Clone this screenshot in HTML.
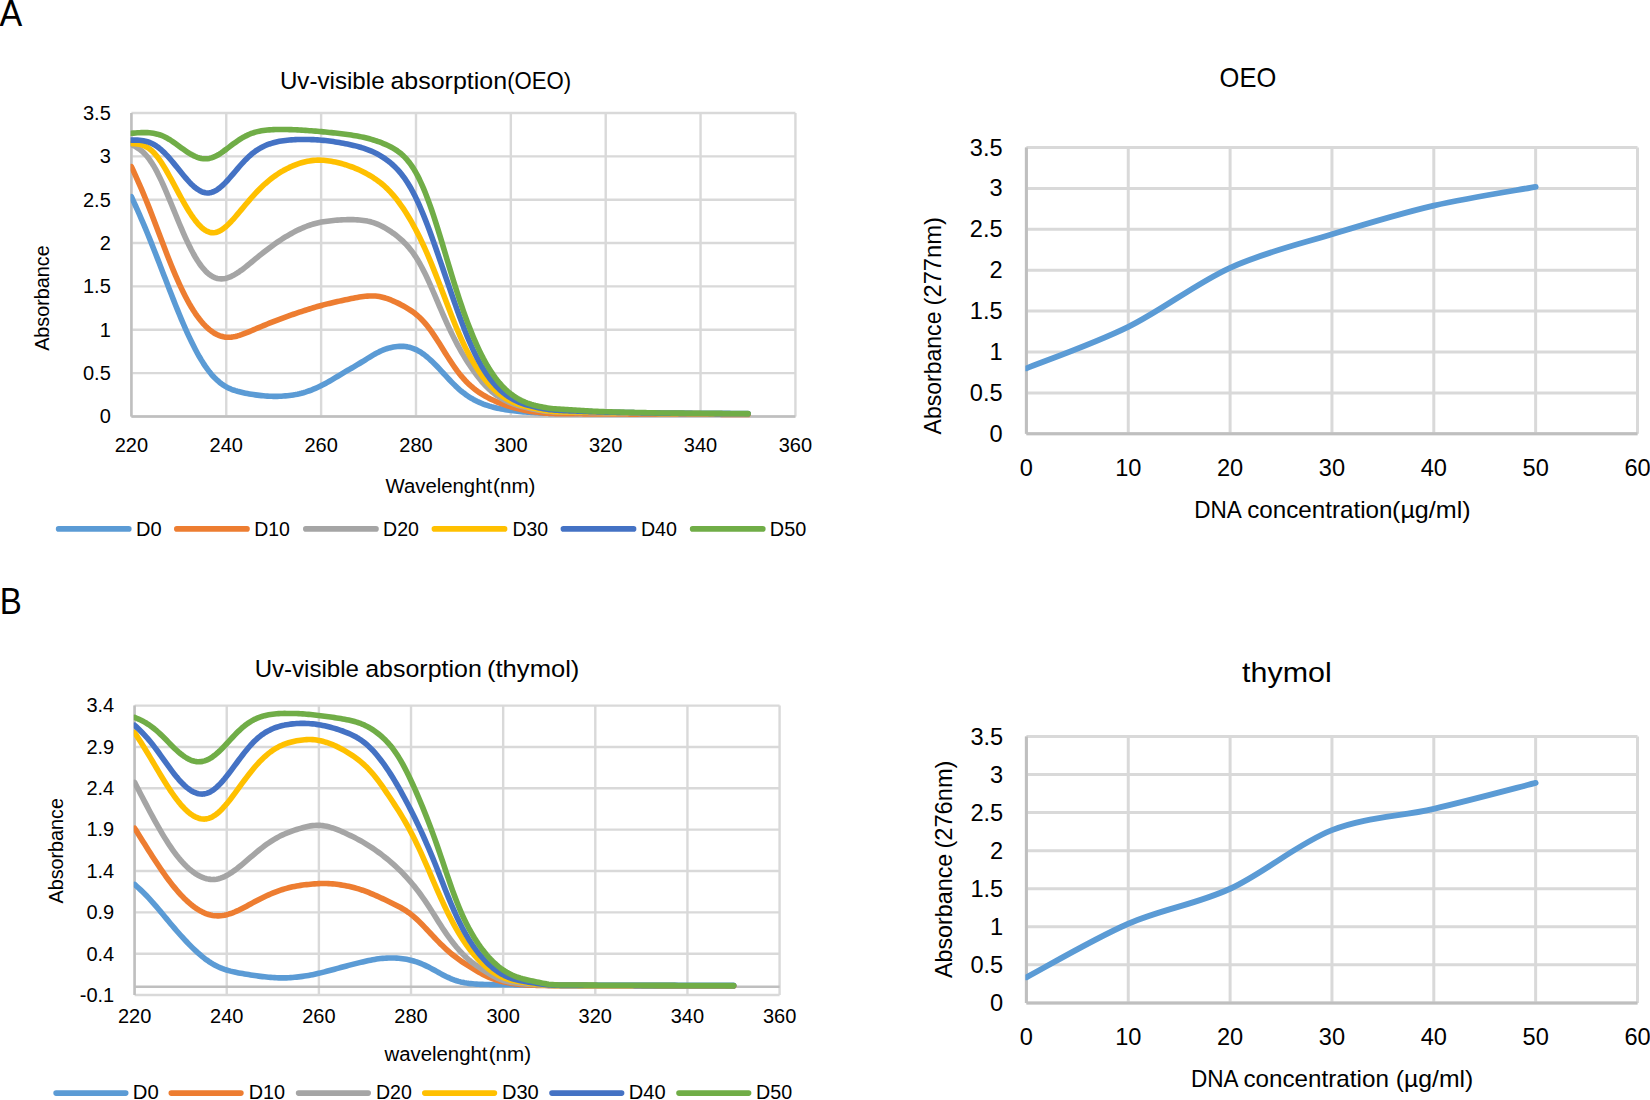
<!DOCTYPE html>
<html lang="en">
<head>
<meta charset="utf-8">
<title>UV-visible absorption of DNA with OEO and thymol</title>
<style>
html,body{margin:0;padding:0;background:#fff;}
body{width:1650px;height:1100px;overflow:hidden;}
svg{display:block;font-family:"Liberation Sans",sans-serif;fill:#000;}
svg path{fill:none;}
</style>
</head>
<body>
<svg width="1650" height="1100" viewBox="0 0 1650 1100">
<rect width="1650" height="1100" fill="#fff"/>
<g id="chart-a">
<path d="M131.4 113H795.42M131.4 156.35H795.42M131.4 199.7H795.42M131.4 243.05H795.42M131.4 286.4H795.42M131.4 329.75H795.42M131.4 373.1H795.42M131.4 416.45H795.42M131.4 113V416.45M226.26 113V416.45M321.12 113V416.45M415.98 113V416.45M510.84 113V416.45M605.7 113V416.45M700.56 113V416.45M795.42 113V416.45" stroke="#D9D9D9" stroke-width="2.4" fill="none"/>
<path d="M131.4 113V416.45M131.4 416.45H795.42" stroke="#BFBFBF" stroke-width="2.4" fill="none"/>
<clipPath id="clipA"><rect x="130.6" y="103" width="674.02" height="323.45"/></clipPath>
<g clip-path="url(#clipA)">
<path d="M131.4 196.72 L133.4 201.1 L135.4 205.5 L137.4 209.94 L139.4 214.44 L141.4 219.02 L143.4 223.69 L145.4 228.43 L147.4 233.26 L149.4 238.15 L151.4 243.12 L153.4 248.16 L155.4 253.24 L157.4 258.37 L159.4 263.53 L161.4 268.71 L163.4 273.91 L165.4 279.1 L167.4 284.28 L169.4 289.44 L171.4 294.57 L173.4 299.65 L175.4 304.68 L177.4 309.64 L179.4 314.52 L181.4 319.32 L183.4 324.01 L185.4 328.59 L187.4 333.06 L189.4 337.39 L191.4 341.57 L193.4 345.61 L195.4 349.5 L197.4 353.21 L199.4 356.77 L201.4 360.14 L203.4 363.34 L205.4 366.35 L207.4 369.18 L209.4 371.82 L211.4 374.27 L213.4 376.52 L215.4 378.59 L217.4 380.49 L219.4 382.2 L221.4 383.74 L223.4 385.12 L225.4 386.36 L227.4 387.45 L229.4 388.42 L231.4 389.27 L233.4 390.02 L235.4 390.68 L237.4 391.27 L239.4 391.8 L241.4 392.29 L243.4 392.74 L245.4 393.16 L247.4 393.55 L249.4 393.91 L251.4 394.25 L253.4 394.57 L255.4 394.86 L257.4 395.14 L259.4 395.39 L261.4 395.62 L263.4 395.82 L265.4 395.98 L267.4 396.12 L269.4 396.22 L271.4 396.29 L273.4 396.34 L275.4 396.35 L277.4 396.33 L279.4 396.28 L281.4 396.18 L283.4 396.05 L285.4 395.89 L287.4 395.69 L289.4 395.47 L291.4 395.22 L293.4 394.93 L295.4 394.6 L297.4 394.22 L299.4 393.79 L301.4 393.3 L303.4 392.75 L305.4 392.14 L307.4 391.47 L309.4 390.76 L311.4 390.01 L313.4 389.21 L315.4 388.37 L317.4 387.48 L319.4 386.55 L321.4 385.57 L323.4 384.55 L325.4 383.48 L327.4 382.38 L329.4 381.25 L331.4 380.09 L333.4 378.91 L335.4 377.71 L337.4 376.51 L339.4 375.3 L341.4 374.09 L343.4 372.88 L345.4 371.7 L347.4 370.53 L349.4 369.37 L351.4 368.21 L353.4 367.05 L355.4 365.88 L357.4 364.7 L359.4 363.49 L361.4 362.26 L363.4 361.02 L365.4 359.76 L367.4 358.5 L369.4 357.26 L371.4 356.04 L373.4 354.85 L375.4 353.72 L377.4 352.65 L379.4 351.65 L381.4 350.73 L383.4 349.9 L385.4 349.15 L387.4 348.49 L389.4 347.91 L391.4 347.42 L393.4 347.02 L395.4 346.71 L397.4 346.49 L399.4 346.36 L401.4 346.32 L403.4 346.39 L405.4 346.57 L407.4 346.87 L409.4 347.3 L411.4 347.86 L413.4 348.55 L415.4 349.38 L417.4 350.36 L419.4 351.47 L421.4 352.72 L423.4 354.1 L425.4 355.61 L427.4 357.25 L429.4 358.99 L431.4 360.82 L433.4 362.74 L435.4 364.74 L437.4 366.81 L439.4 368.93 L441.4 371.08 L443.4 373.25 L445.4 375.43 L447.4 377.6 L449.4 379.74 L451.4 381.84 L453.4 383.88 L455.4 385.86 L457.4 387.75 L459.4 389.56 L461.4 391.26 L463.4 392.85 L465.4 394.34 L467.4 395.74 L469.4 397.05 L471.4 398.27 L473.4 399.41 L475.4 400.47 L477.4 401.46 L479.4 402.38 L481.4 403.23 L483.4 404.03 L485.4 404.76 L487.4 405.45 L489.4 406.08 L491.4 406.66 L493.4 407.19 L495.4 407.69 L497.4 408.15 L499.4 408.58 L501.4 408.97 L503.4 409.34 L505.4 409.68 L507.4 410 L509.4 410.3 L511.4 410.57 L513.4 410.82 L515.4 411.06 L517.4 411.28 L519.4 411.48 L521.4 411.67 L523.4 411.85 L525.4 412.01 L527.4 412.16 L529.4 412.31 L531.4 412.44 L533.4 412.57 L535.4 412.69 L537.4 412.81 L539.4 412.93 L541.4 413.03 L543.4 413.13 L545.4 413.22 L547.4 413.3 L549.4 413.36 L551.4 413.41 L553.4 413.44 L555.4 413.46 L557.4 413.47 L559.4 413.47 L561.4 413.47 L563.4 413.45 L565.4 413.44 L567.4 413.42 L569.4 413.41 L571.4 413.39 L573.4 413.37 L575.4 413.36 L577.4 413.34 L579.4 413.32 L581.4 413.31 L583.4 413.3 L585.4 413.28 L587.4 413.27 L589.4 413.26 L591.4 413.25 L593.4 413.24 L595.4 413.23 L597.4 413.22 L599.4 413.22 L601.4 413.21 L603.4 413.21 L605.4 413.22 L607.4 413.22 L609.4 413.22 L611.4 413.23 L613.4 413.23 L615.4 413.24 L617.4 413.24 L619.4 413.25 L621.4 413.26 L623.4 413.26 L625.4 413.27 L627.4 413.27 L629.4 413.28 L631.4 413.28 L633.4 413.29 L635.4 413.3 L637.4 413.3 L639.4 413.31 L641.4 413.31 L643.4 413.32 L645.4 413.32 L647.4 413.33 L649.4 413.33 L651.4 413.34 L653.4 413.34 L655.4 413.35 L657.4 413.36 L659.4 413.36 L661.4 413.37 L663.4 413.37 L665.4 413.38 L667.4 413.38 L669.4 413.39 L671.4 413.39 L673.4 413.4 L675.4 413.4 L677.4 413.41 L679.4 413.41 L681.4 413.42 L683.4 413.43 L685.4 413.43 L687.4 413.44 L689.4 413.44 L691.4 413.45 L693.4 413.45 L695.4 413.46 L697.4 413.46 L699.4 413.47 L701.4 413.47 L703.4 413.48 L705.4 413.48 L707.4 413.49 L709.4 413.5 L711.4 413.5 L713.4 413.51 L715.4 413.51 L717.4 413.52 L719.4 413.52 L721.4 413.53 L723.4 413.53 L725.4 413.54 L727.4 413.54 L729.4 413.55 L731.4 413.56 L733.4 413.56 L735.4 413.57 L737.4 413.57 L739.4 413.58 L741.4 413.58 L743.4 413.59 L745.4 413.59 L747.4 413.6 L748 413.6" stroke="#5B9BD5" stroke-width="5.6" fill="none" stroke-linecap="round" stroke-linejoin="round"/>
<path d="M131.4 166.54 L133.4 170.93 L135.4 175.35 L137.4 179.81 L139.4 184.33 L141.4 188.94 L143.4 193.65 L145.4 198.46 L147.4 203.36 L149.4 208.36 L151.4 213.46 L153.4 218.64 L155.4 223.88 L157.4 229.16 L159.4 234.46 L161.4 239.76 L163.4 245.04 L165.4 250.28 L167.4 255.46 L169.4 260.54 L171.4 265.53 L173.4 270.39 L175.4 275.12 L177.4 279.71 L179.4 284.15 L181.4 288.43 L183.4 292.54 L185.4 296.48 L187.4 300.25 L189.4 303.84 L191.4 307.25 L193.4 310.47 L195.4 313.52 L197.4 316.37 L199.4 319.04 L201.4 321.52 L203.4 323.82 L205.4 325.93 L207.4 327.86 L209.4 329.6 L211.4 331.17 L213.4 332.55 L215.4 333.76 L217.4 334.79 L219.4 335.64 L221.4 336.31 L223.4 336.81 L225.4 337.13 L227.4 337.29 L229.4 337.29 L231.4 337.13 L233.4 336.85 L235.4 336.44 L237.4 335.93 L239.4 335.34 L241.4 334.67 L243.4 333.95 L245.4 333.18 L247.4 332.38 L249.4 331.55 L251.4 330.72 L253.4 329.87 L255.4 329.03 L257.4 328.18 L259.4 327.34 L261.4 326.5 L263.4 325.67 L265.4 324.85 L267.4 324.03 L269.4 323.22 L271.4 322.42 L273.4 321.62 L275.4 320.84 L277.4 320.06 L279.4 319.3 L281.4 318.55 L283.4 317.81 L285.4 317.09 L287.4 316.37 L289.4 315.66 L291.4 314.95 L293.4 314.26 L295.4 313.57 L297.4 312.89 L299.4 312.21 L301.4 311.55 L303.4 310.89 L305.4 310.24 L307.4 309.6 L309.4 308.97 L311.4 308.35 L313.4 307.74 L315.4 307.14 L317.4 306.56 L319.4 305.99 L321.4 305.44 L323.4 304.91 L325.4 304.39 L327.4 303.89 L329.4 303.41 L331.4 302.93 L333.4 302.46 L335.4 302.01 L337.4 301.55 L339.4 301.11 L341.4 300.67 L343.4 300.23 L345.4 299.81 L347.4 299.39 L349.4 298.97 L351.4 298.56 L353.4 298.17 L355.4 297.79 L357.4 297.43 L359.4 297.09 L361.4 296.79 L363.4 296.52 L365.4 296.3 L367.4 296.12 L369.4 296 L371.4 295.94 L373.4 295.96 L375.4 296.06 L377.4 296.27 L379.4 296.59 L381.4 296.99 L383.4 297.49 L385.4 298.06 L387.4 298.71 L389.4 299.43 L391.4 300.21 L393.4 301.05 L395.4 301.94 L397.4 302.88 L399.4 303.87 L401.4 304.91 L403.4 305.99 L405.4 307.12 L407.4 308.32 L409.4 309.57 L411.4 310.9 L413.4 312.31 L415.4 313.84 L417.4 315.48 L419.4 317.27 L421.4 319.22 L423.4 321.33 L425.4 323.61 L427.4 326.07 L429.4 328.68 L431.4 331.44 L433.4 334.34 L435.4 337.34 L437.4 340.43 L439.4 343.59 L441.4 346.78 L443.4 350 L445.4 353.2 L447.4 356.37 L449.4 359.5 L451.4 362.54 L453.4 365.5 L455.4 368.35 L457.4 371.09 L459.4 373.69 L461.4 376.16 L463.4 378.5 L465.4 380.69 L467.4 382.75 L469.4 384.68 L471.4 386.48 L473.4 388.16 L475.4 389.74 L477.4 391.21 L479.4 392.58 L481.4 393.88 L483.4 395.1 L485.4 396.26 L487.4 397.36 L489.4 398.4 L491.4 399.39 L493.4 400.34 L495.4 401.24 L497.4 402.1 L499.4 402.91 L501.4 403.69 L503.4 404.43 L505.4 405.13 L507.4 405.79 L509.4 406.42 L511.4 407.02 L513.4 407.59 L515.4 408.13 L517.4 408.63 L519.4 409.12 L521.4 409.57 L523.4 410 L525.4 410.4 L527.4 410.78 L529.4 411.14 L531.4 411.47 L533.4 411.78 L535.4 412.06 L537.4 412.32 L539.4 412.55 L541.4 412.76 L543.4 412.95 L545.4 413.12 L547.4 413.25 L549.4 413.37 L551.4 413.46 L553.4 413.53 L555.4 413.58 L557.4 413.62 L559.4 413.65 L561.4 413.67 L563.4 413.69 L565.4 413.7 L567.4 413.71 L569.4 413.72 L571.4 413.74 L573.4 413.75 L575.4 413.77 L577.4 413.78 L579.4 413.8 L581.4 413.82 L583.4 413.84 L585.4 413.86 L587.4 413.88 L589.4 413.9 L591.4 413.91 L593.4 413.93 L595.4 413.95 L597.4 413.97 L599.4 413.98 L601.4 413.99 L603.4 414 L605.4 414.01 L607.4 414.02 L609.4 414.03 L611.4 414.03 L613.4 414.04 L615.4 414.05 L617.4 414.05 L619.4 414.06 L621.4 414.06 L623.4 414.06 L625.4 414.07 L627.4 414.07 L629.4 414.08 L631.4 414.09 L633.4 414.09 L635.4 414.1 L637.4 414.1 L639.4 414.11 L641.4 414.11 L643.4 414.12 L645.4 414.12 L647.4 414.13 L649.4 414.13 L651.4 414.14 L653.4 414.14 L655.4 414.15 L657.4 414.16 L659.4 414.16 L661.4 414.17 L663.4 414.17 L665.4 414.18 L667.4 414.18 L669.4 414.19 L671.4 414.19 L673.4 414.2 L675.4 414.2 L677.4 414.21 L679.4 414.21 L681.4 414.22 L683.4 414.23 L685.4 414.23 L687.4 414.24 L689.4 414.24 L691.4 414.25 L693.4 414.25 L695.4 414.26 L697.4 414.26 L699.4 414.27 L701.4 414.27 L703.4 414.28 L705.4 414.28 L707.4 414.29 L709.4 414.3 L711.4 414.3 L713.4 414.31 L715.4 414.31 L717.4 414.32 L719.4 414.32 L721.4 414.33 L723.4 414.33 L725.4 414.34 L727.4 414.34 L729.4 414.35 L731.4 414.36 L733.4 414.36 L735.4 414.37 L737.4 414.37 L739.4 414.38 L741.4 414.38 L743.4 414.39 L745.4 414.39 L747.4 414.4 L748 414.4" stroke="#ED7D31" stroke-width="5.6" fill="none" stroke-linecap="round" stroke-linejoin="round"/>
<path d="M131.4 144.44 L133.4 145.51 L135.4 146.61 L137.4 147.81 L139.4 149.15 L141.4 150.68 L143.4 152.44 L145.4 154.47 L147.4 156.79 L149.4 159.4 L151.4 162.29 L153.4 165.47 L155.4 168.93 L157.4 172.66 L159.4 176.66 L161.4 180.87 L163.4 185.28 L165.4 189.85 L167.4 194.55 L169.4 199.35 L171.4 204.22 L173.4 209.12 L175.4 214.03 L177.4 218.91 L179.4 223.73 L181.4 228.46 L183.4 233.08 L185.4 237.57 L187.4 241.9 L189.4 246.05 L191.4 250 L193.4 253.74 L195.4 257.24 L197.4 260.5 L199.4 263.51 L201.4 266.26 L203.4 268.74 L205.4 270.95 L207.4 272.88 L209.4 274.54 L211.4 275.92 L213.4 277.03 L215.4 277.87 L217.4 278.46 L219.4 278.79 L221.4 278.89 L223.4 278.77 L225.4 278.43 L227.4 277.9 L229.4 277.2 L231.4 276.33 L233.4 275.32 L235.4 274.18 L237.4 272.93 L239.4 271.57 L241.4 270.14 L243.4 268.64 L245.4 267.09 L247.4 265.49 L249.4 263.87 L251.4 262.23 L253.4 260.59 L255.4 258.95 L257.4 257.31 L259.4 255.69 L261.4 254.08 L263.4 252.5 L265.4 250.94 L267.4 249.41 L269.4 247.9 L271.4 246.42 L273.4 244.97 L275.4 243.55 L277.4 242.17 L279.4 240.82 L281.4 239.51 L283.4 238.23 L285.4 236.99 L287.4 235.78 L289.4 234.61 L291.4 233.48 L293.4 232.39 L295.4 231.35 L297.4 230.35 L299.4 229.39 L301.4 228.47 L303.4 227.6 L305.4 226.77 L307.4 225.99 L309.4 225.27 L311.4 224.61 L313.4 224 L315.4 223.44 L317.4 222.94 L319.4 222.49 L321.4 222.09 L323.4 221.74 L325.4 221.44 L327.4 221.16 L329.4 220.92 L331.4 220.7 L333.4 220.49 L335.4 220.31 L337.4 220.14 L339.4 219.99 L341.4 219.87 L343.4 219.76 L345.4 219.68 L347.4 219.63 L349.4 219.61 L351.4 219.62 L353.4 219.66 L355.4 219.74 L357.4 219.86 L359.4 220.01 L361.4 220.2 L363.4 220.44 L365.4 220.74 L367.4 221.11 L369.4 221.55 L371.4 222.07 L373.4 222.67 L375.4 223.36 L377.4 224.13 L379.4 225 L381.4 225.95 L383.4 226.99 L385.4 228.12 L387.4 229.31 L389.4 230.59 L391.4 231.93 L393.4 233.34 L395.4 234.83 L397.4 236.39 L399.4 238.04 L401.4 239.8 L403.4 241.67 L405.4 243.67 L407.4 245.82 L409.4 248.14 L411.4 250.66 L413.4 253.37 L415.4 256.31 L417.4 259.48 L419.4 262.88 L421.4 266.5 L423.4 270.33 L425.4 274.36 L427.4 278.56 L429.4 282.92 L431.4 287.41 L433.4 292 L435.4 296.67 L437.4 301.37 L439.4 306.08 L441.4 310.76 L443.4 315.38 L445.4 319.92 L447.4 324.35 L449.4 328.66 L451.4 332.84 L453.4 336.88 L455.4 340.79 L457.4 344.57 L459.4 348.23 L461.4 351.77 L463.4 355.19 L465.4 358.5 L467.4 361.71 L469.4 364.81 L471.4 367.79 L473.4 370.67 L475.4 373.44 L477.4 376.1 L479.4 378.63 L481.4 381.05 L483.4 383.35 L485.4 385.51 L487.4 387.56 L489.4 389.47 L491.4 391.25 L493.4 392.9 L495.4 394.43 L497.4 395.85 L499.4 397.16 L501.4 398.38 L503.4 399.5 L505.4 400.53 L507.4 401.48 L509.4 402.35 L511.4 403.16 L513.4 403.9 L515.4 404.59 L517.4 405.22 L519.4 405.81 L521.4 406.36 L523.4 406.88 L525.4 407.38 L527.4 407.86 L529.4 408.32 L531.4 408.76 L533.4 409.18 L535.4 409.58 L537.4 409.95 L539.4 410.29 L541.4 410.61 L543.4 410.9 L545.4 411.15 L547.4 411.38 L549.4 411.56 L551.4 411.72 L553.4 411.84 L555.4 411.93 L557.4 412.01 L559.4 412.06 L561.4 412.11 L563.4 412.14 L565.4 412.18 L567.4 412.21 L569.4 412.24 L571.4 412.26 L573.4 412.3 L575.4 412.33 L577.4 412.36 L579.4 412.4 L581.4 412.43 L583.4 412.47 L585.4 412.51 L587.4 412.55 L589.4 412.59 L591.4 412.63 L593.4 412.67 L595.4 412.7 L597.4 412.74 L599.4 412.78 L601.4 412.81 L603.4 412.84 L605.4 412.87 L607.4 412.9 L609.4 412.93 L611.4 412.96 L613.4 412.98 L615.4 413.01 L617.4 413.03 L619.4 413.06 L621.4 413.09 L623.4 413.11 L625.4 413.14 L627.4 413.17 L629.4 413.19 L631.4 413.22 L633.4 413.25 L635.4 413.27 L637.4 413.3 L639.4 413.33 L641.4 413.36 L643.4 413.38 L645.4 413.41 L647.4 413.44 L649.4 413.46 L651.4 413.49 L653.4 413.51 L655.4 413.54 L657.4 413.56 L659.4 413.58 L661.4 413.6 L663.4 413.61 L665.4 413.62 L667.4 413.64 L669.4 413.65 L671.4 413.66 L673.4 413.67 L675.4 413.67 L677.4 413.68 L679.4 413.69 L681.4 413.7 L683.4 413.71 L685.4 413.72 L687.4 413.73 L689.4 413.73 L691.4 413.74 L693.4 413.75 L695.4 413.76 L697.4 413.77 L699.4 413.78 L701.4 413.79 L703.4 413.8 L705.4 413.81 L707.4 413.82 L709.4 413.82 L711.4 413.83 L713.4 413.84 L715.4 413.85 L717.4 413.86 L719.4 413.87 L721.4 413.88 L723.4 413.89 L725.4 413.9 L727.4 413.91 L729.4 413.92 L731.4 413.92 L733.4 413.93 L735.4 413.94 L737.4 413.95 L739.4 413.96 L741.4 413.97 L743.4 413.98 L745.4 413.99 L747.4 414 L748 414" stroke="#A5A5A5" stroke-width="5.6" fill="none" stroke-linecap="round" stroke-linejoin="round"/>
<path d="M131.4 143.5 L133.4 143.61 L135.4 143.76 L137.4 143.99 L139.4 144.32 L141.4 144.79 L143.4 145.45 L145.4 146.32 L147.4 147.43 L149.4 148.78 L151.4 150.39 L153.4 152.27 L155.4 154.43 L157.4 156.87 L159.4 159.58 L161.4 162.53 L163.4 165.69 L165.4 169.01 L167.4 172.48 L169.4 176.05 L171.4 179.71 L173.4 183.41 L175.4 187.15 L177.4 190.88 L179.4 194.59 L181.4 198.26 L183.4 201.84 L185.4 205.34 L187.4 208.72 L189.4 211.96 L191.4 215.04 L193.4 217.93 L195.4 220.63 L197.4 223.11 L199.4 225.34 L201.4 227.31 L203.4 229 L205.4 230.39 L207.4 231.46 L209.4 232.21 L211.4 232.64 L213.4 232.74 L215.4 232.5 L217.4 231.95 L219.4 231.11 L221.4 230 L223.4 228.64 L225.4 227.05 L227.4 225.26 L229.4 223.31 L231.4 221.23 L233.4 219.04 L235.4 216.76 L237.4 214.43 L239.4 212.04 L241.4 209.64 L243.4 207.22 L245.4 204.81 L247.4 202.43 L249.4 200.08 L251.4 197.78 L253.4 195.53 L255.4 193.34 L257.4 191.21 L259.4 189.17 L261.4 187.2 L263.4 185.32 L265.4 183.52 L267.4 181.8 L269.4 180.15 L271.4 178.57 L273.4 177.06 L275.4 175.62 L277.4 174.25 L279.4 172.96 L281.4 171.73 L283.4 170.56 L285.4 169.46 L287.4 168.4 L289.4 167.41 L291.4 166.49 L293.4 165.62 L295.4 164.83 L297.4 164.09 L299.4 163.41 L301.4 162.79 L303.4 162.22 L305.4 161.71 L307.4 161.27 L309.4 160.91 L311.4 160.61 L313.4 160.38 L315.4 160.23 L317.4 160.15 L319.4 160.14 L321.4 160.2 L323.4 160.32 L325.4 160.51 L327.4 160.75 L329.4 161.03 L331.4 161.35 L333.4 161.71 L335.4 162.1 L337.4 162.53 L339.4 163.01 L341.4 163.53 L343.4 164.1 L345.4 164.7 L347.4 165.35 L349.4 166.03 L351.4 166.74 L353.4 167.49 L355.4 168.28 L357.4 169.12 L359.4 170.01 L361.4 170.95 L363.4 171.95 L365.4 173.01 L367.4 174.11 L369.4 175.27 L371.4 176.47 L373.4 177.72 L375.4 179.04 L377.4 180.44 L379.4 181.92 L381.4 183.49 L383.4 185.16 L385.4 186.96 L387.4 188.88 L389.4 190.93 L391.4 193.1 L393.4 195.39 L395.4 197.81 L397.4 200.35 L399.4 203.01 L401.4 205.8 L403.4 208.71 L405.4 211.75 L407.4 214.93 L409.4 218.25 L411.4 221.7 L413.4 225.29 L415.4 229.01 L417.4 232.86 L419.4 236.86 L421.4 240.98 L423.4 245.25 L425.4 249.66 L427.4 254.21 L429.4 258.88 L431.4 263.68 L433.4 268.59 L435.4 273.6 L437.4 278.69 L439.4 283.85 L441.4 289.07 L443.4 294.32 L445.4 299.59 L447.4 304.85 L449.4 310.07 L451.4 315.22 L453.4 320.28 L455.4 325.22 L457.4 330.02 L459.4 334.66 L461.4 339.14 L463.4 343.46 L465.4 347.6 L467.4 351.57 L469.4 355.37 L471.4 359 L473.4 362.47 L475.4 365.78 L477.4 368.93 L479.4 371.93 L481.4 374.77 L483.4 377.46 L485.4 380.01 L487.4 382.41 L489.4 384.68 L491.4 386.82 L493.4 388.82 L495.4 390.69 L497.4 392.43 L499.4 394.05 L501.4 395.55 L503.4 396.95 L505.4 398.23 L507.4 399.41 L509.4 400.5 L511.4 401.49 L513.4 402.4 L515.4 403.23 L517.4 403.98 L519.4 404.67 L521.4 405.29 L523.4 405.86 L525.4 406.38 L527.4 406.87 L529.4 407.33 L531.4 407.78 L533.4 408.21 L535.4 408.63 L537.4 409.04 L539.4 409.43 L541.4 409.81 L543.4 410.17 L545.4 410.51 L547.4 410.81 L549.4 411.07 L551.4 411.28 L553.4 411.45 L555.4 411.58 L557.4 411.67 L559.4 411.75 L561.4 411.8 L563.4 411.84 L565.4 411.87 L567.4 411.9 L569.4 411.92 L571.4 411.94 L573.4 411.96 L575.4 411.99 L577.4 412.01 L579.4 412.04 L581.4 412.07 L583.4 412.1 L585.4 412.14 L587.4 412.17 L589.4 412.21 L591.4 412.24 L593.4 412.28 L595.4 412.31 L597.4 412.35 L599.4 412.38 L601.4 412.42 L603.4 412.45 L605.4 412.49 L607.4 412.52 L609.4 412.56 L611.4 412.59 L613.4 412.62 L615.4 412.66 L617.4 412.69 L619.4 412.72 L621.4 412.76 L623.4 412.79 L625.4 412.82 L627.4 412.86 L629.4 412.89 L631.4 412.92 L633.4 412.96 L635.4 412.99 L637.4 413.03 L639.4 413.06 L641.4 413.09 L643.4 413.13 L645.4 413.16 L647.4 413.2 L649.4 413.23 L651.4 413.26 L653.4 413.29 L655.4 413.32 L657.4 413.35 L659.4 413.37 L661.4 413.4 L663.4 413.42 L665.4 413.44 L667.4 413.45 L669.4 413.47 L671.4 413.48 L673.4 413.5 L675.4 413.51 L677.4 413.52 L679.4 413.54 L681.4 413.55 L683.4 413.56 L685.4 413.57 L687.4 413.59 L689.4 413.6 L691.4 413.61 L693.4 413.63 L695.4 413.64 L697.4 413.65 L699.4 413.67 L701.4 413.68 L703.4 413.7 L705.4 413.71 L707.4 413.72 L709.4 413.74 L711.4 413.75 L713.4 413.76 L715.4 413.78 L717.4 413.79 L719.4 413.8 L721.4 413.82 L723.4 413.83 L725.4 413.85 L727.4 413.86 L729.4 413.87 L731.4 413.89 L733.4 413.9 L735.4 413.91 L737.4 413.93 L739.4 413.94 L741.4 413.96 L743.4 413.97 L745.4 413.98 L747.4 414 L748 414" stroke="#FFC000" stroke-width="5.6" fill="none" stroke-linecap="round" stroke-linejoin="round"/>
<path d="M131.4 140.1 L133.4 140.09 L135.4 140.1 L137.4 140.15 L139.4 140.27 L141.4 140.46 L143.4 140.75 L145.4 141.16 L147.4 141.71 L149.4 142.4 L151.4 143.24 L153.4 144.24 L155.4 145.41 L157.4 146.76 L159.4 148.29 L161.4 149.98 L163.4 151.83 L165.4 153.81 L167.4 155.93 L169.4 158.16 L171.4 160.49 L173.4 162.9 L175.4 165.36 L177.4 167.86 L179.4 170.36 L181.4 172.84 L183.4 175.28 L185.4 177.66 L187.4 179.95 L189.4 182.13 L191.4 184.17 L193.4 186.05 L195.4 187.74 L197.4 189.23 L199.4 190.5 L201.4 191.52 L203.4 192.28 L205.4 192.77 L207.4 192.96 L209.4 192.86 L211.4 192.45 L213.4 191.77 L215.4 190.81 L217.4 189.59 L219.4 188.13 L221.4 186.47 L223.4 184.62 L225.4 182.62 L227.4 180.48 L229.4 178.25 L231.4 175.94 L233.4 173.58 L235.4 171.21 L237.4 168.84 L239.4 166.51 L241.4 164.23 L243.4 162.04 L245.4 159.94 L247.4 157.94 L249.4 156.05 L251.4 154.29 L253.4 152.66 L255.4 151.17 L257.4 149.81 L259.4 148.57 L261.4 147.45 L263.4 146.43 L265.4 145.53 L267.4 144.71 L269.4 143.99 L271.4 143.33 L273.4 142.74 L275.4 142.21 L277.4 141.74 L279.4 141.32 L281.4 140.97 L283.4 140.67 L285.4 140.42 L287.4 140.21 L289.4 140.03 L291.4 139.87 L293.4 139.74 L295.4 139.63 L297.4 139.55 L299.4 139.49 L301.4 139.46 L303.4 139.45 L305.4 139.46 L307.4 139.49 L309.4 139.54 L311.4 139.6 L313.4 139.67 L315.4 139.77 L317.4 139.88 L319.4 140.01 L321.4 140.17 L323.4 140.36 L325.4 140.57 L327.4 140.8 L329.4 141.05 L331.4 141.32 L333.4 141.6 L335.4 141.9 L337.4 142.21 L339.4 142.55 L341.4 142.9 L343.4 143.27 L345.4 143.66 L347.4 144.07 L349.4 144.5 L351.4 144.94 L353.4 145.4 L355.4 145.89 L357.4 146.41 L359.4 146.96 L361.4 147.55 L363.4 148.19 L365.4 148.87 L367.4 149.59 L369.4 150.36 L371.4 151.18 L373.4 152.05 L375.4 152.99 L377.4 154 L379.4 155.1 L381.4 156.29 L383.4 157.57 L385.4 158.93 L387.4 160.39 L389.4 161.96 L391.4 163.63 L393.4 165.42 L395.4 167.35 L397.4 169.43 L399.4 171.66 L401.4 174.07 L403.4 176.68 L405.4 179.48 L407.4 182.49 L409.4 185.73 L411.4 189.21 L413.4 192.91 L415.4 196.85 L417.4 201.03 L419.4 205.43 L421.4 210.04 L423.4 214.86 L425.4 219.85 L427.4 225.02 L429.4 230.34 L431.4 235.79 L433.4 241.36 L435.4 247.03 L437.4 252.77 L439.4 258.56 L441.4 264.38 L443.4 270.22 L445.4 276.06 L447.4 281.89 L449.4 287.7 L451.4 293.48 L453.4 299.21 L455.4 304.87 L457.4 310.46 L459.4 315.95 L461.4 321.34 L463.4 326.59 L465.4 331.7 L467.4 336.64 L469.4 341.4 L471.4 345.96 L473.4 350.32 L475.4 354.47 L477.4 358.42 L479.4 362.16 L481.4 365.7 L483.4 369.03 L485.4 372.18 L487.4 375.14 L489.4 377.92 L491.4 380.52 L493.4 382.96 L495.4 385.23 L497.4 387.35 L499.4 389.32 L501.4 391.14 L503.4 392.82 L505.4 394.38 L507.4 395.82 L509.4 397.14 L511.4 398.36 L513.4 399.48 L515.4 400.51 L517.4 401.46 L519.4 402.33 L521.4 403.12 L523.4 403.84 L525.4 404.49 L527.4 405.09 L529.4 405.64 L531.4 406.14 L533.4 406.62 L535.4 407.07 L537.4 407.5 L539.4 407.92 L541.4 408.31 L543.4 408.67 L545.4 409.02 L547.4 409.33 L549.4 409.61 L551.4 409.84 L553.4 410.04 L555.4 410.2 L557.4 410.33 L559.4 410.45 L561.4 410.54 L563.4 410.63 L565.4 410.7 L567.4 410.77 L569.4 410.84 L571.4 410.91 L573.4 410.98 L575.4 411.05 L577.4 411.12 L579.4 411.19 L581.4 411.27 L583.4 411.35 L585.4 411.43 L587.4 411.5 L589.4 411.58 L591.4 411.66 L593.4 411.73 L595.4 411.81 L597.4 411.88 L599.4 411.94 L601.4 412 L603.4 412.05 L605.4 412.11 L607.4 412.15 L609.4 412.2 L611.4 412.24 L613.4 412.28 L615.4 412.32 L617.4 412.36 L619.4 412.4 L621.4 412.43 L623.4 412.47 L625.4 412.51 L627.4 412.55 L629.4 412.59 L631.4 412.63 L633.4 412.67 L635.4 412.71 L637.4 412.75 L639.4 412.79 L641.4 412.83 L643.4 412.87 L645.4 412.91 L647.4 412.95 L649.4 412.99 L651.4 413.03 L653.4 413.07 L655.4 413.1 L657.4 413.14 L659.4 413.17 L661.4 413.19 L663.4 413.22 L665.4 413.24 L667.4 413.25 L669.4 413.27 L671.4 413.28 L673.4 413.3 L675.4 413.31 L677.4 413.32 L679.4 413.34 L681.4 413.35 L683.4 413.36 L685.4 413.38 L687.4 413.39 L689.4 413.4 L691.4 413.41 L693.4 413.43 L695.4 413.44 L697.4 413.45 L699.4 413.47 L701.4 413.48 L703.4 413.5 L705.4 413.51 L707.4 413.52 L709.4 413.54 L711.4 413.55 L713.4 413.56 L715.4 413.58 L717.4 413.59 L719.4 413.6 L721.4 413.62 L723.4 413.63 L725.4 413.65 L727.4 413.66 L729.4 413.67 L731.4 413.69 L733.4 413.7 L735.4 413.71 L737.4 413.73 L739.4 413.74 L741.4 413.76 L743.4 413.77 L745.4 413.78 L747.4 413.8 L748 413.8" stroke="#4472C4" stroke-width="5.6" fill="none" stroke-linecap="round" stroke-linejoin="round"/>
<path d="M131.4 133.31 L133.4 133.13 L135.4 132.95 L137.4 132.8 L139.4 132.68 L141.4 132.59 L143.4 132.56 L145.4 132.58 L147.4 132.66 L149.4 132.81 L151.4 133.02 L153.4 133.31 L155.4 133.69 L157.4 134.16 L159.4 134.74 L161.4 135.44 L163.4 136.27 L165.4 137.22 L167.4 138.29 L169.4 139.47 L171.4 140.75 L173.4 142.11 L175.4 143.53 L177.4 144.98 L179.4 146.44 L181.4 147.91 L183.4 149.35 L185.4 150.75 L187.4 152.09 L189.4 153.36 L191.4 154.53 L193.4 155.59 L195.4 156.52 L197.4 157.32 L199.4 157.96 L201.4 158.43 L203.4 158.72 L205.4 158.82 L207.4 158.71 L209.4 158.39 L211.4 157.87 L213.4 157.17 L215.4 156.29 L217.4 155.25 L219.4 154.05 L221.4 152.75 L223.4 151.35 L225.4 149.88 L227.4 148.38 L229.4 146.87 L231.4 145.35 L233.4 143.85 L235.4 142.39 L237.4 140.97 L239.4 139.63 L241.4 138.37 L243.4 137.2 L245.4 136.13 L247.4 135.15 L249.4 134.26 L251.4 133.47 L253.4 132.77 L255.4 132.16 L257.4 131.64 L259.4 131.19 L261.4 130.81 L263.4 130.5 L265.4 130.25 L267.4 130.04 L269.4 129.87 L271.4 129.74 L273.4 129.64 L275.4 129.56 L277.4 129.5 L279.4 129.47 L281.4 129.46 L283.4 129.47 L285.4 129.5 L287.4 129.54 L289.4 129.59 L291.4 129.66 L293.4 129.73 L295.4 129.82 L297.4 129.91 L299.4 130.01 L301.4 130.13 L303.4 130.25 L305.4 130.38 L307.4 130.52 L309.4 130.67 L311.4 130.82 L313.4 130.98 L315.4 131.14 L317.4 131.31 L319.4 131.48 L321.4 131.66 L323.4 131.85 L325.4 132.04 L327.4 132.24 L329.4 132.44 L331.4 132.65 L333.4 132.86 L335.4 133.08 L337.4 133.3 L339.4 133.53 L341.4 133.77 L343.4 134.01 L345.4 134.27 L347.4 134.54 L349.4 134.81 L351.4 135.1 L353.4 135.41 L355.4 135.73 L357.4 136.08 L359.4 136.46 L361.4 136.87 L363.4 137.32 L365.4 137.79 L367.4 138.3 L369.4 138.83 L371.4 139.39 L373.4 139.98 L375.4 140.61 L377.4 141.27 L379.4 141.98 L381.4 142.73 L383.4 143.53 L385.4 144.37 L387.4 145.27 L389.4 146.23 L391.4 147.25 L393.4 148.36 L395.4 149.57 L397.4 150.9 L399.4 152.39 L401.4 154.03 L403.4 155.86 L405.4 157.89 L407.4 160.14 L409.4 162.62 L411.4 165.37 L413.4 168.4 L415.4 171.73 L417.4 175.37 L419.4 179.32 L421.4 183.58 L423.4 188.15 L425.4 193.02 L427.4 198.18 L429.4 203.6 L431.4 209.28 L433.4 215.19 L435.4 221.31 L437.4 227.62 L439.4 234.08 L441.4 240.67 L443.4 247.32 L445.4 254.01 L447.4 260.7 L449.4 267.36 L451.4 273.95 L453.4 280.46 L455.4 286.85 L457.4 293.13 L459.4 299.26 L461.4 305.23 L463.4 311.04 L465.4 316.66 L467.4 322.1 L469.4 327.35 L471.4 332.4 L473.4 337.27 L475.4 341.93 L477.4 346.4 L479.4 350.67 L481.4 354.74 L483.4 358.62 L485.4 362.29 L487.4 365.78 L489.4 369.08 L491.4 372.19 L493.4 375.13 L495.4 377.9 L497.4 380.49 L499.4 382.93 L501.4 385.2 L503.4 387.32 L505.4 389.29 L507.4 391.11 L509.4 392.8 L511.4 394.36 L513.4 395.79 L515.4 397.12 L517.4 398.33 L519.4 399.45 L521.4 400.47 L523.4 401.41 L525.4 402.26 L527.4 403.03 L529.4 403.74 L531.4 404.38 L533.4 404.96 L535.4 405.49 L537.4 405.97 L539.4 406.42 L541.4 406.84 L543.4 407.23 L545.4 407.58 L547.4 407.91 L549.4 408.2 L551.4 408.45 L553.4 408.66 L555.4 408.85 L557.4 409.01 L559.4 409.16 L561.4 409.29 L563.4 409.41 L565.4 409.53 L567.4 409.64 L569.4 409.76 L571.4 409.87 L573.4 409.99 L575.4 410.1 L577.4 410.22 L579.4 410.34 L581.4 410.47 L583.4 410.59 L585.4 410.71 L587.4 410.84 L589.4 410.96 L591.4 411.08 L593.4 411.19 L595.4 411.3 L597.4 411.4 L599.4 411.5 L601.4 411.58 L603.4 411.66 L605.4 411.72 L607.4 411.78 L609.4 411.84 L611.4 411.89 L613.4 411.93 L615.4 411.98 L617.4 412.02 L619.4 412.07 L621.4 412.11 L623.4 412.16 L625.4 412.2 L627.4 412.24 L629.4 412.29 L631.4 412.34 L633.4 412.38 L635.4 412.43 L637.4 412.48 L639.4 412.52 L641.4 412.57 L643.4 412.62 L645.4 412.67 L647.4 412.71 L649.4 412.76 L651.4 412.81 L653.4 412.85 L655.4 412.89 L657.4 412.93 L659.4 412.96 L661.4 412.99 L663.4 413.01 L665.4 413.04 L667.4 413.05 L669.4 413.07 L671.4 413.09 L673.4 413.1 L675.4 413.11 L677.4 413.13 L679.4 413.14 L681.4 413.15 L683.4 413.16 L685.4 413.18 L687.4 413.19 L689.4 413.2 L691.4 413.21 L693.4 413.23 L695.4 413.24 L697.4 413.25 L699.4 413.27 L701.4 413.28 L703.4 413.3 L705.4 413.31 L707.4 413.32 L709.4 413.34 L711.4 413.35 L713.4 413.36 L715.4 413.38 L717.4 413.39 L719.4 413.4 L721.4 413.42 L723.4 413.43 L725.4 413.45 L727.4 413.46 L729.4 413.47 L731.4 413.49 L733.4 413.5 L735.4 413.51 L737.4 413.53 L739.4 413.54 L741.4 413.56 L743.4 413.57 L745.4 413.58 L747.4 413.6 L748 413.6" stroke="#70AD47" stroke-width="5.6" fill="none" stroke-linecap="round" stroke-linejoin="round"/>
</g>
<text y="26" font-size="36.7"><tspan x="-0.47" textLength="22.73" lengthAdjust="spacingAndGlyphs">A</tspan></text>
<text y="89.4" font-size="24.5"><tspan x="279.94" textLength="104.64" lengthAdjust="spacingAndGlyphs">Uv-visible</tspan> <tspan x="390.44" textLength="116.68" lengthAdjust="spacingAndGlyphs">absorption</tspan><tspan x="507.13" textLength="63.95" lengthAdjust="spacingAndGlyphs">(OEO)</tspan></text>
<text x="110.8" y="119.8" font-size="20" text-anchor="end">3.5</text>
<text x="110.8" y="163.15" font-size="20" text-anchor="end">3</text>
<text x="110.8" y="206.5" font-size="20" text-anchor="end">2.5</text>
<text x="110.8" y="249.85" font-size="20" text-anchor="end">2</text>
<text x="110.8" y="293.2" font-size="20" text-anchor="end">1.5</text>
<text x="110.8" y="336.55" font-size="20" text-anchor="end">1</text>
<text x="110.8" y="379.9" font-size="20" text-anchor="end">0.5</text>
<text x="110.8" y="423.25" font-size="20" text-anchor="end">0</text>
<text x="131.4" y="452.3" font-size="20" text-anchor="middle">220</text>
<text x="226.26" y="452.3" font-size="20" text-anchor="middle">240</text>
<text x="321.12" y="452.3" font-size="20" text-anchor="middle">260</text>
<text x="415.98" y="452.3" font-size="20" text-anchor="middle">280</text>
<text x="510.84" y="452.3" font-size="20" text-anchor="middle">300</text>
<text x="605.7" y="452.3" font-size="20" text-anchor="middle">320</text>
<text x="700.56" y="452.3" font-size="20" text-anchor="middle">340</text>
<text x="795.42" y="452.3" font-size="20" text-anchor="middle">360</text>
<text y="493.3" font-size="20"><tspan x="385.51" textLength="106.64" lengthAdjust="spacingAndGlyphs">Wavelenght</tspan><tspan x="493.12" textLength="42.36" lengthAdjust="spacingAndGlyphs">(nm)</tspan></text>
<text y="0" font-size="20" transform="translate(49 350.8) rotate(-90)"><tspan x="-0.04" textLength="105.52" lengthAdjust="spacingAndGlyphs">Absorbance</tspan></text>
<path d="M58.6 528.9H128.8" stroke="#5B9BD5" stroke-width="5.6" stroke-linecap="round"/>
<text y="535.6" font-size="20"><tspan x="136.06" textLength="25.63" lengthAdjust="spacingAndGlyphs">D0</tspan></text>
<path d="M176.8 528.9H247" stroke="#ED7D31" stroke-width="5.6" stroke-linecap="round"/>
<text y="535.6" font-size="20"><tspan x="254.2" textLength="35.76" lengthAdjust="spacingAndGlyphs">D10</tspan></text>
<path d="M305.8 528.9H376" stroke="#A5A5A5" stroke-width="5.6" stroke-linecap="round"/>
<text y="535.6" font-size="20"><tspan x="383.1" textLength="35.87" lengthAdjust="spacingAndGlyphs">D20</tspan></text>
<path d="M434.4 528.9H504.6" stroke="#FFC000" stroke-width="5.6" stroke-linecap="round"/>
<text y="535.6" font-size="20"><tspan x="512.41" textLength="35.65" lengthAdjust="spacingAndGlyphs">D30</tspan></text>
<path d="M563.4 528.9H633.6" stroke="#4472C4" stroke-width="5.6" stroke-linecap="round"/>
<text y="535.6" font-size="20"><tspan x="640.89" textLength="36.08" lengthAdjust="spacingAndGlyphs">D40</tspan></text>
<path d="M692.6 528.9H762.8" stroke="#70AD47" stroke-width="5.6" stroke-linecap="round"/>
<text y="535.6" font-size="20"><tspan x="769.87" textLength="36.4" lengthAdjust="spacingAndGlyphs">D50</tspan></text>
</g>
<g id="chart-oeo">
<path d="M1026.4 147.6H1637.5M1026.4 188.48H1637.5M1026.4 229.36H1637.5M1026.4 270.24H1637.5M1026.4 311.12H1637.5M1026.4 352H1637.5M1026.4 392.88H1637.5M1026.4 433.76H1637.5M1026.4 147.6V433.76M1128.25 147.6V433.76M1230.1 147.6V433.76M1331.95 147.6V433.76M1433.8 147.6V433.76M1535.65 147.6V433.76M1637.5 147.6V433.76" stroke="#D9D9D9" stroke-width="3" fill="none"/>
<path d="M1026.4 147.6V433.76M1026.4 433.76H1637.5" stroke="#BFBFBF" stroke-width="3" fill="none"/>
<clipPath id="clipC"><rect x="1025.4" y="137.6" width="700" height="306.16"/></clipPath>
<path clip-path="url(#clipC)" d="M1026.4 368.35 C1043.38 361.44 1094.3 343.66 1128.25 326.9 C1162.2 310.14 1196.15 283.23 1230.1 267.79 C1264.05 252.35 1298 244.62 1331.95 234.27 C1365.9 223.91 1399.85 213.55 1433.8 205.65 C1467.75 197.75 1518.68 189.98 1535.65 186.84" stroke="#5B9BD5" stroke-width="5.8" fill="none" stroke-linecap="round"/>
<text y="86.9" font-size="28.5"><tspan x="1219.59" textLength="56.63" lengthAdjust="spacingAndGlyphs">OEO</tspan></text>
<text x="1002.6" y="155.6" font-size="23.6" text-anchor="end">3.5</text>
<text x="1002.6" y="196.48" font-size="23.6" text-anchor="end">3</text>
<text x="1002.6" y="237.36" font-size="23.6" text-anchor="end">2.5</text>
<text x="1002.6" y="278.24" font-size="23.6" text-anchor="end">2</text>
<text x="1002.6" y="319.12" font-size="23.6" text-anchor="end">1.5</text>
<text x="1002.6" y="360" font-size="23.6" text-anchor="end">1</text>
<text x="1002.6" y="400.88" font-size="23.6" text-anchor="end">0.5</text>
<text x="1002.6" y="441.76" font-size="23.6" text-anchor="end">0</text>
<text x="1026.4" y="476" font-size="23.6" text-anchor="middle">0</text>
<text x="1128.25" y="476" font-size="23.6" text-anchor="middle">10</text>
<text x="1230.1" y="476" font-size="23.6" text-anchor="middle">20</text>
<text x="1331.95" y="476" font-size="23.6" text-anchor="middle">30</text>
<text x="1433.8" y="476" font-size="23.6" text-anchor="middle">40</text>
<text x="1535.65" y="476" font-size="23.6" text-anchor="middle">50</text>
<text x="1637.5" y="476" font-size="23.6" text-anchor="middle">60</text>
<text y="517.5" font-size="23.6"><tspan x="1194.2" textLength="46.34" lengthAdjust="spacingAndGlyphs">DNA</tspan> <tspan x="1247.17" textLength="145.3" lengthAdjust="spacingAndGlyphs">concentration</tspan><tspan x="1392.04" textLength="78.61" lengthAdjust="spacingAndGlyphs">(µg/ml)</tspan></text>
<text y="0" font-size="23.6" transform="translate(941.2 434.4) rotate(-90)"><tspan x="-0.04" textLength="122.87" lengthAdjust="spacingAndGlyphs">Absorbance</tspan> <tspan x="128.93" textLength="88.45" lengthAdjust="spacingAndGlyphs">(277nm)</tspan></text>
</g>
<g id="chart-b">
<path d="M134.6 705.6H779.58M134.6 746.95H779.58M134.6 788.3H779.58M134.6 829.65H779.58M134.6 871H779.58M134.6 912.35H779.58M134.6 953.7H779.58M134.6 995.05H779.58M134.6 705.6V995.05M226.74 705.6V995.05M318.88 705.6V995.05M411.02 705.6V995.05M503.16 705.6V995.05M595.3 705.6V995.05M687.44 705.6V995.05M779.58 705.6V995.05" stroke="#D9D9D9" stroke-width="2.4" fill="none"/>
<path d="M134.6 705.6V995.05M134.6 986.78H779.58" stroke="#BFBFBF" stroke-width="2.4" fill="none"/>
<clipPath id="clipB"><rect x="133.8" y="695.6" width="654.98" height="309.45"/></clipPath>
<g clip-path="url(#clipB)">
<path d="M134.6 884.42 L136.6 886.23 L138.6 888.05 L140.6 889.9 L142.6 891.79 L144.6 893.74 L146.6 895.76 L148.6 897.86 L150.6 900.03 L152.6 902.26 L154.6 904.55 L156.6 906.87 L158.6 909.24 L160.6 911.62 L162.6 914.03 L164.6 916.44 L166.6 918.86 L168.6 921.27 L170.6 923.67 L172.6 926.05 L174.6 928.41 L176.6 930.73 L178.6 933.01 L180.6 935.26 L182.6 937.48 L184.6 939.65 L186.6 941.78 L188.6 943.87 L190.6 945.9 L192.6 947.89 L194.6 949.81 L196.6 951.67 L198.6 953.47 L200.6 955.19 L202.6 956.84 L204.6 958.41 L206.6 959.9 L208.6 961.3 L210.6 962.62 L212.6 963.84 L214.6 964.98 L216.6 966.03 L218.6 966.99 L220.6 967.86 L222.6 968.65 L224.6 969.36 L226.6 970.01 L228.6 970.59 L230.6 971.13 L232.6 971.62 L234.6 972.07 L236.6 972.49 L238.6 972.88 L240.6 973.25 L242.6 973.61 L244.6 973.95 L246.6 974.29 L248.6 974.61 L250.6 974.93 L252.6 975.24 L254.6 975.55 L256.6 975.84 L258.6 976.11 L260.6 976.37 L262.6 976.61 L264.6 976.83 L266.6 977.03 L268.6 977.21 L270.6 977.38 L272.6 977.53 L274.6 977.66 L276.6 977.77 L278.6 977.85 L280.6 977.9 L282.6 977.92 L284.6 977.9 L286.6 977.85 L288.6 977.76 L290.6 977.65 L292.6 977.5 L294.6 977.32 L296.6 977.12 L298.6 976.89 L300.6 976.64 L302.6 976.37 L304.6 976.08 L306.6 975.77 L308.6 975.43 L310.6 975.07 L312.6 974.68 L314.6 974.26 L316.6 973.82 L318.6 973.35 L320.6 972.86 L322.6 972.36 L324.6 971.85 L326.6 971.33 L328.6 970.8 L330.6 970.26 L332.6 969.72 L334.6 969.18 L336.6 968.63 L338.6 968.09 L340.6 967.54 L342.6 967 L344.6 966.47 L346.6 965.93 L348.6 965.41 L350.6 964.89 L352.6 964.37 L354.6 963.87 L356.6 963.37 L358.6 962.88 L360.6 962.39 L362.6 961.92 L364.6 961.45 L366.6 961 L368.6 960.57 L370.6 960.16 L372.6 959.77 L374.6 959.41 L376.6 959.08 L378.6 958.8 L380.6 958.55 L382.6 958.35 L384.6 958.19 L386.6 958.08 L388.6 958 L390.6 957.98 L392.6 957.99 L394.6 958.05 L396.6 958.15 L398.6 958.3 L400.6 958.49 L402.6 958.73 L404.6 959.02 L406.6 959.36 L408.6 959.76 L410.6 960.21 L412.6 960.73 L414.6 961.31 L416.6 961.95 L418.6 962.66 L420.6 963.43 L422.6 964.26 L424.6 965.15 L426.6 966.1 L428.6 967.09 L430.6 968.13 L432.6 969.21 L434.6 970.31 L436.6 971.42 L438.6 972.53 L440.6 973.63 L442.6 974.69 L444.6 975.73 L446.6 976.72 L448.6 977.65 L450.6 978.53 L452.6 979.34 L454.6 980.09 L456.6 980.76 L458.6 981.37 L460.6 981.9 L462.6 982.37 L464.6 982.76 L466.6 983.1 L468.6 983.39 L470.6 983.63 L472.6 983.84 L474.6 984.01 L476.6 984.15 L478.6 984.26 L480.6 984.35 L482.6 984.42 L484.6 984.47 L486.6 984.52 L488.6 984.56 L490.6 984.59 L492.6 984.61 L494.6 984.64 L496.6 984.66 L498.6 984.69 L500.6 984.71 L502.6 984.73 L504.6 984.74 L506.6 984.76 L508.6 984.78 L510.6 984.79 L512.6 984.81 L514.6 984.83 L516.6 984.84 L518.6 984.86 L520.6 984.88 L522.6 984.89 L524.6 984.91 L526.6 984.93 L528.6 984.95 L530.6 984.97 L532.6 984.99 L534.6 985.01 L536.6 985.04 L538.6 985.06 L540.6 985.08 L542.6 985.1 L544.6 985.13 L546.6 985.15 L548.6 985.16 L550.6 985.18 L552.6 985.19 L554.6 985.2 L556.6 985.2 L558.6 985.2 L560.6 985.21 L562.6 985.21 L564.6 985.21 L566.6 985.21 L568.6 985.21 L570.6 985.2 L572.6 985.2 L574.6 985.2 L576.6 985.2 L578.6 985.2 L580.6 985.2 L582.6 985.2 L584.6 985.2 L586.6 985.2 L588.6 985.2 L590.6 985.2 L592.6 985.2 L594.6 985.2 L596.6 985.2 L598.6 985.2 L600.6 985.2 L602.6 985.2 L604.6 985.2 L606.6 985.2 L608.6 985.2 L610.6 985.2 L612.6 985.2 L614.6 985.2 L616.6 985.2 L618.6 985.2 L620.6 985.2 L622.6 985.2 L624.6 985.2 L626.6 985.2 L628.6 985.2 L630.6 985.2 L632.6 985.2 L634.6 985.2 L636.6 985.2 L638.6 985.2 L640.6 985.2 L642.6 985.2 L644.6 985.2 L646.6 985.2 L648.6 985.2 L650.6 985.2 L652.6 985.2 L654.6 985.2 L656.6 985.2 L658.6 985.2 L660.6 985.2 L662.6 985.2 L664.6 985.2 L666.6 985.2 L668.6 985.2 L670.6 985.2 L672.6 985.2 L674.6 985.2 L676.6 985.2 L678.6 985.2 L680.6 985.2 L682.6 985.2 L684.6 985.2 L686.6 985.2 L688.6 985.2 L690.6 985.2 L692.6 985.2 L694.6 985.2 L696.6 985.2 L698.6 985.2 L700.6 985.2 L702.6 985.2 L704.6 985.2 L706.6 985.2 L708.6 985.2 L710.6 985.2 L712.6 985.2 L714.6 985.2 L716.6 985.2 L718.6 985.2 L720.6 985.2 L722.6 985.2 L724.6 985.2 L726.6 985.2 L728.6 985.2 L730.6 985.2 L732.6 985.2 L733.6 985.2" stroke="#5B9BD5" stroke-width="5.6" fill="none" stroke-linecap="round" stroke-linejoin="round"/>
<path d="M134.6 828.11 L136.6 831.31 L138.6 834.51 L140.6 837.7 L142.6 840.89 L144.6 844.07 L146.6 847.24 L148.6 850.4 L150.6 853.55 L152.6 856.66 L154.6 859.75 L156.6 862.8 L158.6 865.8 L160.6 868.75 L162.6 871.65 L164.6 874.49 L166.6 877.27 L168.6 879.97 L170.6 882.6 L172.6 885.16 L174.6 887.63 L176.6 890.02 L178.6 892.32 L180.6 894.53 L182.6 896.65 L184.6 898.68 L186.6 900.6 L188.6 902.43 L190.6 904.15 L192.6 905.76 L194.6 907.27 L196.6 908.66 L198.6 909.94 L200.6 911.1 L202.6 912.13 L204.6 913.05 L206.6 913.83 L208.6 914.49 L210.6 915.02 L212.6 915.42 L214.6 915.69 L216.6 915.83 L218.6 915.84 L220.6 915.73 L222.6 915.5 L224.6 915.16 L226.6 914.72 L228.6 914.17 L230.6 913.54 L232.6 912.82 L234.6 912.02 L236.6 911.16 L238.6 910.25 L240.6 909.28 L242.6 908.27 L244.6 907.22 L246.6 906.16 L248.6 905.08 L250.6 903.99 L252.6 902.91 L254.6 901.84 L256.6 900.78 L258.6 899.74 L260.6 898.72 L262.6 897.73 L264.6 896.76 L266.6 895.81 L268.6 894.9 L270.6 894.02 L272.6 893.18 L274.6 892.37 L276.6 891.6 L278.6 890.87 L280.6 890.18 L282.6 889.52 L284.6 888.91 L286.6 888.34 L288.6 887.8 L290.6 887.3 L292.6 886.84 L294.6 886.42 L296.6 886.03 L298.6 885.67 L300.6 885.36 L302.6 885.08 L304.6 884.83 L306.6 884.62 L308.6 884.43 L310.6 884.25 L312.6 884.07 L314.6 883.9 L316.6 883.75 L318.6 883.63 L320.6 883.54 L322.6 883.49 L324.6 883.48 L326.6 883.52 L328.6 883.59 L330.6 883.71 L332.6 883.88 L334.6 884.08 L336.6 884.32 L338.6 884.58 L340.6 884.88 L342.6 885.2 L344.6 885.55 L346.6 885.94 L348.6 886.35 L350.6 886.79 L352.6 887.27 L354.6 887.79 L356.6 888.34 L358.6 888.93 L360.6 889.56 L362.6 890.23 L364.6 890.95 L366.6 891.69 L368.6 892.47 L370.6 893.28 L372.6 894.12 L374.6 894.99 L376.6 895.87 L378.6 896.78 L380.6 897.7 L382.6 898.63 L384.6 899.57 L386.6 900.52 L388.6 901.47 L390.6 902.44 L392.6 903.41 L394.6 904.4 L396.6 905.42 L398.6 906.47 L400.6 907.55 L402.6 908.7 L404.6 909.9 L406.6 911.19 L408.6 912.58 L410.6 914.07 L412.6 915.67 L414.6 917.37 L416.6 919.16 L418.6 921.04 L420.6 923 L422.6 925.02 L424.6 927.09 L426.6 929.2 L428.6 931.33 L430.6 933.47 L432.6 935.61 L434.6 937.73 L436.6 939.83 L438.6 941.89 L440.6 943.9 L442.6 945.85 L444.6 947.75 L446.6 949.58 L448.6 951.36 L450.6 953.08 L452.6 954.73 L454.6 956.31 L456.6 957.84 L458.6 959.32 L460.6 960.74 L462.6 962.11 L464.6 963.43 L466.6 964.72 L468.6 965.97 L470.6 967.2 L472.6 968.41 L474.6 969.61 L476.6 970.8 L478.6 971.97 L480.6 973.12 L482.6 974.21 L484.6 975.25 L486.6 976.22 L488.6 977.13 L490.6 977.96 L492.6 978.73 L494.6 979.43 L496.6 980.06 L498.6 980.64 L500.6 981.17 L502.6 981.65 L504.6 982.08 L506.6 982.47 L508.6 982.83 L510.6 983.16 L512.6 983.45 L514.6 983.72 L516.6 983.96 L518.6 984.18 L520.6 984.38 L522.6 984.56 L524.6 984.72 L526.6 984.87 L528.6 984.99 L530.6 985.1 L532.6 985.2 L534.6 985.29 L536.6 985.36 L538.6 985.42 L540.6 985.47 L542.6 985.51 L544.6 985.55 L546.6 985.57 L548.6 985.59 L550.6 985.61 L552.6 985.62 L554.6 985.63 L556.6 985.63 L558.6 985.63 L560.6 985.64 L562.6 985.64 L564.6 985.64 L566.6 985.64 L568.6 985.65 L570.6 985.65 L572.6 985.65 L574.6 985.65 L576.6 985.66 L578.6 985.66 L580.6 985.67 L582.6 985.67 L584.6 985.67 L586.6 985.68 L588.6 985.68 L590.6 985.69 L592.6 985.69 L594.6 985.7 L596.6 985.7 L598.6 985.71 L600.6 985.71 L602.6 985.71 L604.6 985.72 L606.6 985.72 L608.6 985.73 L610.6 985.73 L612.6 985.74 L614.6 985.74 L616.6 985.75 L618.6 985.75 L620.6 985.75 L622.6 985.76 L624.6 985.76 L626.6 985.77 L628.6 985.77 L630.6 985.78 L632.6 985.78 L634.6 985.78 L636.6 985.79 L638.6 985.79 L640.6 985.8 L642.6 985.8 L644.6 985.81 L646.6 985.81 L648.6 985.81 L650.6 985.82 L652.6 985.82 L654.6 985.83 L656.6 985.83 L658.6 985.84 L660.6 985.84 L662.6 985.85 L664.6 985.85 L666.6 985.85 L668.6 985.86 L670.6 985.86 L672.6 985.87 L674.6 985.87 L676.6 985.88 L678.6 985.88 L680.6 985.88 L682.6 985.89 L684.6 985.89 L686.6 985.9 L688.6 985.9 L690.6 985.91 L692.6 985.91 L694.6 985.92 L696.6 985.92 L698.6 985.92 L700.6 985.93 L702.6 985.93 L704.6 985.94 L706.6 985.94 L708.6 985.95 L710.6 985.95 L712.6 985.95 L714.6 985.96 L716.6 985.96 L718.6 985.97 L720.6 985.97 L722.6 985.98 L724.6 985.98 L726.6 985.98 L728.6 985.99 L730.6 985.99 L732.6 986 L733.6 986" stroke="#ED7D31" stroke-width="5.6" fill="none" stroke-linecap="round" stroke-linejoin="round"/>
<path d="M134.6 782.31 L136.6 786.18 L138.6 790.05 L140.6 793.92 L142.6 797.77 L144.6 801.6 L146.6 805.41 L148.6 809.2 L150.6 812.95 L152.6 816.66 L154.6 820.33 L156.6 823.93 L158.6 827.47 L160.6 830.93 L162.6 834.32 L164.6 837.62 L166.6 840.82 L168.6 843.93 L170.6 846.92 L172.6 849.81 L174.6 852.57 L176.6 855.21 L178.6 857.73 L180.6 860.11 L182.6 862.37 L184.6 864.49 L186.6 866.47 L188.6 868.32 L190.6 870.03 L192.6 871.6 L194.6 873.03 L196.6 874.33 L198.6 875.49 L200.6 876.51 L202.6 877.39 L204.6 878.11 L206.6 878.69 L208.6 879.12 L210.6 879.38 L212.6 879.48 L214.6 879.41 L216.6 879.17 L218.6 878.75 L220.6 878.18 L222.6 877.44 L224.6 876.57 L226.6 875.56 L228.6 874.42 L230.6 873.18 L232.6 871.83 L234.6 870.39 L236.6 868.89 L238.6 867.32 L240.6 865.7 L242.6 864.05 L244.6 862.37 L246.6 860.67 L248.6 858.96 L250.6 857.24 L252.6 855.53 L254.6 853.83 L256.6 852.16 L258.6 850.51 L260.6 848.9 L262.6 847.33 L264.6 845.82 L266.6 844.36 L268.6 842.96 L270.6 841.62 L272.6 840.34 L274.6 839.12 L276.6 837.96 L278.6 836.87 L280.6 835.85 L282.6 834.88 L284.6 833.98 L286.6 833.12 L288.6 832.32 L290.6 831.56 L292.6 830.85 L294.6 830.17 L296.6 829.52 L298.6 828.91 L300.6 828.31 L302.6 827.73 L304.6 827.19 L306.6 826.68 L308.6 826.24 L310.6 825.88 L312.6 825.61 L314.6 825.43 L316.6 825.33 L318.6 825.32 L320.6 825.42 L322.6 825.63 L324.6 825.93 L326.6 826.32 L328.6 826.8 L330.6 827.35 L332.6 827.97 L334.6 828.65 L336.6 829.39 L338.6 830.18 L340.6 831.02 L342.6 831.9 L344.6 832.8 L346.6 833.72 L348.6 834.66 L350.6 835.62 L352.6 836.6 L354.6 837.6 L356.6 838.63 L358.6 839.69 L360.6 840.78 L362.6 841.92 L364.6 843.09 L366.6 844.31 L368.6 845.56 L370.6 846.85 L372.6 848.17 L374.6 849.54 L376.6 850.94 L378.6 852.37 L380.6 853.85 L382.6 855.36 L384.6 856.92 L386.6 858.52 L388.6 860.17 L390.6 861.86 L392.6 863.61 L394.6 865.41 L396.6 867.26 L398.6 869.17 L400.6 871.12 L402.6 873.14 L404.6 875.21 L406.6 877.35 L408.6 879.55 L410.6 881.84 L412.6 884.2 L414.6 886.64 L416.6 889.16 L418.6 891.77 L420.6 894.47 L422.6 897.26 L424.6 900.13 L426.6 903.08 L428.6 906.09 L430.6 909.19 L432.6 912.37 L434.6 915.58 L436.6 918.79 L438.6 921.97 L440.6 925.09 L442.6 928.17 L444.6 931.17 L446.6 934.09 L448.6 936.9 L450.6 939.62 L452.6 942.26 L454.6 944.79 L456.6 947.22 L458.6 949.54 L460.6 951.76 L462.6 953.88 L464.6 955.89 L466.6 957.78 L468.6 959.57 L470.6 961.26 L472.6 962.84 L474.6 964.29 L476.6 965.66 L478.6 966.99 L480.6 968.3 L482.6 969.63 L484.6 970.94 L486.6 972.23 L488.6 973.48 L490.6 974.67 L492.6 975.8 L494.6 976.86 L496.6 977.84 L498.6 978.72 L500.6 979.51 L502.6 980.19 L504.6 980.78 L506.6 981.3 L508.6 981.75 L510.6 982.14 L512.6 982.5 L514.6 982.81 L516.6 983.09 L518.6 983.34 L520.6 983.56 L522.6 983.76 L524.6 983.94 L526.6 984.1 L528.6 984.24 L530.6 984.38 L532.6 984.51 L534.6 984.64 L536.6 984.76 L538.6 984.89 L540.6 985.01 L542.6 985.13 L544.6 985.24 L546.6 985.34 L548.6 985.43 L550.6 985.5 L552.6 985.55 L554.6 985.59 L556.6 985.62 L558.6 985.64 L560.6 985.65 L562.6 985.66 L564.6 985.66 L566.6 985.67 L568.6 985.67 L570.6 985.67 L572.6 985.67 L574.6 985.67 L576.6 985.67 L578.6 985.67 L580.6 985.67 L582.6 985.67 L584.6 985.68 L586.6 985.68 L588.6 985.68 L590.6 985.69 L592.6 985.69 L594.6 985.7 L596.6 985.7 L598.6 985.7 L600.6 985.71 L602.6 985.71 L604.6 985.72 L606.6 985.72 L608.6 985.73 L610.6 985.73 L612.6 985.74 L614.6 985.74 L616.6 985.75 L618.6 985.75 L620.6 985.75 L622.6 985.76 L624.6 985.76 L626.6 985.77 L628.6 985.77 L630.6 985.78 L632.6 985.78 L634.6 985.78 L636.6 985.79 L638.6 985.79 L640.6 985.8 L642.6 985.8 L644.6 985.81 L646.6 985.81 L648.6 985.81 L650.6 985.82 L652.6 985.82 L654.6 985.83 L656.6 985.83 L658.6 985.84 L660.6 985.84 L662.6 985.85 L664.6 985.85 L666.6 985.85 L668.6 985.86 L670.6 985.86 L672.6 985.87 L674.6 985.87 L676.6 985.88 L678.6 985.88 L680.6 985.88 L682.6 985.89 L684.6 985.89 L686.6 985.9 L688.6 985.9 L690.6 985.91 L692.6 985.91 L694.6 985.92 L696.6 985.92 L698.6 985.92 L700.6 985.93 L702.6 985.93 L704.6 985.94 L706.6 985.94 L708.6 985.95 L710.6 985.95 L712.6 985.95 L714.6 985.96 L716.6 985.96 L718.6 985.97 L720.6 985.97 L722.6 985.98 L724.6 985.98 L726.6 985.98 L728.6 985.99 L730.6 985.99 L732.6 986 L733.6 986" stroke="#A5A5A5" stroke-width="5.6" fill="none" stroke-linecap="round" stroke-linejoin="round"/>
<path d="M134.6 732.45 L136.6 735.56 L138.6 738.68 L140.6 741.82 L142.6 744.98 L144.6 748.19 L146.6 751.45 L148.6 754.75 L150.6 758.1 L152.6 761.47 L154.6 764.86 L156.6 768.24 L158.6 771.61 L160.6 774.96 L162.6 778.27 L164.6 781.52 L166.6 784.72 L168.6 787.83 L170.6 790.86 L172.6 793.79 L174.6 796.6 L176.6 799.29 L178.6 801.85 L180.6 804.27 L182.6 806.53 L184.6 808.64 L186.6 810.58 L188.6 812.35 L190.6 813.93 L192.6 815.31 L194.6 816.5 L196.6 817.48 L198.6 818.23 L200.6 818.76 L202.6 819.05 L204.6 819.08 L206.6 818.87 L208.6 818.39 L210.6 817.65 L212.6 816.67 L214.6 815.45 L216.6 814 L218.6 812.34 L220.6 810.47 L222.6 808.43 L224.6 806.23 L226.6 803.9 L228.6 801.45 L230.6 798.92 L232.6 796.3 L234.6 793.63 L236.6 790.92 L238.6 788.18 L240.6 785.44 L242.6 782.71 L244.6 780 L246.6 777.33 L248.6 774.71 L250.6 772.16 L252.6 769.68 L254.6 767.28 L256.6 764.98 L258.6 762.77 L260.6 760.67 L262.6 758.68 L264.6 756.81 L266.6 755.05 L268.6 753.4 L270.6 751.87 L272.6 750.45 L274.6 749.15 L276.6 747.94 L278.6 746.85 L280.6 745.85 L282.6 744.96 L284.6 744.15 L286.6 743.42 L288.6 742.77 L290.6 742.19 L292.6 741.67 L294.6 741.2 L296.6 740.8 L298.6 740.45 L300.6 740.16 L302.6 739.92 L304.6 739.74 L306.6 739.62 L308.6 739.55 L310.6 739.56 L312.6 739.65 L314.6 739.83 L316.6 740.08 L318.6 740.42 L320.6 740.83 L322.6 741.31 L324.6 741.86 L326.6 742.47 L328.6 743.14 L330.6 743.87 L332.6 744.66 L334.6 745.51 L336.6 746.42 L338.6 747.39 L340.6 748.42 L342.6 749.5 L344.6 750.63 L346.6 751.82 L348.6 753.06 L350.6 754.34 L352.6 755.66 L354.6 757.04 L356.6 758.49 L358.6 760.02 L360.6 761.63 L362.6 763.34 L364.6 765.15 L366.6 767.07 L368.6 769.11 L370.6 771.28 L372.6 773.57 L374.6 775.99 L376.6 778.53 L378.6 781.18 L380.6 783.92 L382.6 786.73 L384.6 789.62 L386.6 792.56 L388.6 795.53 L390.6 798.54 L392.6 801.57 L394.6 804.63 L396.6 807.72 L398.6 810.87 L400.6 814.08 L402.6 817.37 L404.6 820.75 L406.6 824.25 L408.6 827.85 L410.6 831.57 L412.6 835.41 L414.6 839.36 L416.6 843.43 L418.6 847.61 L420.6 851.91 L422.6 856.3 L424.6 860.78 L426.6 865.35 L428.6 869.97 L430.6 874.64 L432.6 879.32 L434.6 883.98 L436.6 888.6 L438.6 893.14 L440.6 897.6 L442.6 901.95 L444.6 906.2 L446.6 910.36 L448.6 914.41 L450.6 918.33 L452.6 922.13 L454.6 925.8 L456.6 929.34 L458.6 932.74 L460.6 936 L462.6 939.14 L464.6 942.16 L466.6 945.04 L468.6 947.8 L470.6 950.45 L472.6 952.97 L474.6 955.38 L476.6 957.66 L478.6 959.83 L480.6 961.87 L482.6 963.8 L484.6 965.63 L486.6 967.34 L488.6 968.95 L490.6 970.47 L492.6 971.88 L494.6 973.19 L496.6 974.39 L498.6 975.47 L500.6 976.45 L502.6 977.33 L504.6 978.12 L506.6 978.82 L508.6 979.44 L510.6 979.98 L512.6 980.46 L514.6 980.88 L516.6 981.26 L518.6 981.61 L520.6 981.94 L522.6 982.25 L524.6 982.55 L526.6 982.84 L528.6 983.12 L530.6 983.4 L532.6 983.66 L534.6 983.92 L536.6 984.16 L538.6 984.38 L540.6 984.58 L542.6 984.77 L544.6 984.93 L546.6 985.08 L548.6 985.2 L550.6 985.3 L552.6 985.37 L554.6 985.43 L556.6 985.47 L558.6 985.5 L560.6 985.52 L562.6 985.53 L564.6 985.54 L566.6 985.54 L568.6 985.55 L570.6 985.55 L572.6 985.56 L574.6 985.56 L576.6 985.57 L578.6 985.58 L580.6 985.59 L582.6 985.6 L584.6 985.61 L586.6 985.62 L588.6 985.63 L590.6 985.64 L592.6 985.65 L594.6 985.67 L596.6 985.68 L598.6 985.69 L600.6 985.69 L602.6 985.7 L604.6 985.71 L606.6 985.72 L608.6 985.72 L610.6 985.73 L612.6 985.73 L614.6 985.73 L616.6 985.74 L618.6 985.74 L620.6 985.75 L622.6 985.75 L624.6 985.76 L626.6 985.76 L628.6 985.76 L630.6 985.77 L632.6 985.77 L634.6 985.78 L636.6 985.78 L638.6 985.79 L640.6 985.79 L642.6 985.8 L644.6 985.8 L646.6 985.8 L648.6 985.81 L650.6 985.81 L652.6 985.82 L654.6 985.82 L656.6 985.83 L658.6 985.83 L660.6 985.84 L662.6 985.84 L664.6 985.85 L666.6 985.85 L668.6 985.85 L670.6 985.86 L672.6 985.86 L674.6 985.87 L676.6 985.87 L678.6 985.88 L680.6 985.88 L682.6 985.89 L684.6 985.89 L686.6 985.89 L688.6 985.9 L690.6 985.9 L692.6 985.91 L694.6 985.91 L696.6 985.92 L698.6 985.92 L700.6 985.93 L702.6 985.93 L704.6 985.93 L706.6 985.94 L708.6 985.94 L710.6 985.95 L712.6 985.95 L714.6 985.96 L716.6 985.96 L718.6 985.97 L720.6 985.97 L722.6 985.98 L724.6 985.98 L726.6 985.98 L728.6 985.99 L730.6 985.99 L732.6 986 L733.6 986" stroke="#FFC000" stroke-width="5.6" fill="none" stroke-linecap="round" stroke-linejoin="round"/>
<path d="M134.6 725.2 L136.6 727.09 L138.6 729.01 L140.6 730.96 L142.6 732.98 L144.6 735.08 L146.6 737.29 L148.6 739.61 L150.6 742.03 L152.6 744.55 L154.6 747.14 L156.6 749.8 L158.6 752.52 L160.6 755.29 L162.6 758.09 L164.6 760.9 L166.6 763.7 L168.6 766.48 L170.6 769.21 L172.6 771.87 L174.6 774.45 L176.6 776.93 L178.6 779.3 L180.6 781.53 L182.6 783.62 L184.6 785.56 L186.6 787.32 L188.6 788.91 L190.6 790.3 L192.6 791.49 L194.6 792.47 L196.6 793.23 L198.6 793.75 L200.6 794.04 L202.6 794.08 L204.6 793.87 L206.6 793.38 L208.6 792.65 L210.6 791.66 L212.6 790.43 L214.6 788.97 L216.6 787.28 L218.6 785.4 L220.6 783.34 L222.6 781.11 L224.6 778.76 L226.6 776.29 L228.6 773.73 L230.6 771.09 L232.6 768.41 L234.6 765.69 L236.6 762.97 L238.6 760.26 L240.6 757.58 L242.6 754.95 L244.6 752.39 L246.6 749.91 L248.6 747.52 L250.6 745.24 L252.6 743.09 L254.6 741.07 L256.6 739.18 L258.6 737.43 L260.6 735.81 L262.6 734.32 L264.6 732.97 L266.6 731.75 L268.6 730.64 L270.6 729.65 L272.6 728.77 L274.6 727.97 L276.6 727.26 L278.6 726.62 L280.6 726.05 L282.6 725.55 L284.6 725.11 L286.6 724.72 L288.6 724.39 L290.6 724.1 L292.6 723.87 L294.6 723.68 L296.6 723.54 L298.6 723.43 L300.6 723.37 L302.6 723.35 L304.6 723.37 L306.6 723.44 L308.6 723.54 L310.6 723.68 L312.6 723.86 L314.6 724.09 L316.6 724.36 L318.6 724.67 L320.6 725.03 L322.6 725.42 L324.6 725.85 L326.6 726.32 L328.6 726.81 L330.6 727.32 L332.6 727.85 L334.6 728.42 L336.6 729.01 L338.6 729.64 L340.6 730.3 L342.6 731.01 L344.6 731.76 L346.6 732.56 L348.6 733.4 L350.6 734.29 L352.6 735.23 L354.6 736.24 L356.6 737.33 L358.6 738.51 L360.6 739.8 L362.6 741.21 L364.6 742.75 L366.6 744.41 L368.6 746.21 L370.6 748.14 L372.6 750.22 L374.6 752.42 L376.6 754.74 L378.6 757.19 L380.6 759.75 L382.6 762.42 L384.6 765.2 L386.6 768.07 L388.6 771.05 L390.6 774.13 L392.6 777.31 L394.6 780.59 L396.6 783.95 L398.6 787.41 L400.6 790.94 L402.6 794.55 L404.6 798.22 L406.6 801.96 L408.6 805.77 L410.6 809.64 L412.6 813.58 L414.6 817.6 L416.6 821.7 L418.6 825.89 L420.6 830.16 L422.6 834.53 L424.6 838.98 L426.6 843.51 L428.6 848.14 L430.6 852.86 L432.6 857.66 L434.6 862.56 L436.6 867.54 L438.6 872.6 L440.6 877.7 L442.6 882.82 L444.6 887.92 L446.6 892.96 L448.6 897.91 L450.6 902.75 L452.6 907.45 L454.6 911.98 L456.6 916.35 L458.6 920.55 L460.6 924.58 L462.6 928.43 L464.6 932.09 L466.6 935.58 L468.6 938.9 L470.6 942.05 L472.6 945.05 L474.6 947.9 L476.6 950.61 L478.6 953.19 L480.6 955.63 L482.6 957.95 L484.6 960.14 L486.6 962.21 L488.6 964.17 L490.6 966 L492.6 967.72 L494.6 969.33 L496.6 970.81 L498.6 972.19 L500.6 973.44 L502.6 974.57 L504.6 975.6 L506.6 976.52 L508.6 977.34 L510.6 978.08 L512.6 978.73 L514.6 979.31 L516.6 979.83 L518.6 980.29 L520.6 980.71 L522.6 981.1 L524.6 981.45 L526.6 981.8 L528.6 982.14 L530.6 982.46 L532.6 982.78 L534.6 983.09 L536.6 983.39 L538.6 983.68 L540.6 983.96 L542.6 984.22 L544.6 984.46 L546.6 984.67 L548.6 984.86 L550.6 985 L552.6 985.12 L554.6 985.21 L556.6 985.27 L558.6 985.31 L560.6 985.33 L562.6 985.35 L564.6 985.36 L566.6 985.36 L568.6 985.37 L570.6 985.37 L572.6 985.37 L574.6 985.37 L576.6 985.38 L578.6 985.38 L580.6 985.39 L582.6 985.4 L584.6 985.41 L586.6 985.42 L588.6 985.43 L590.6 985.44 L592.6 985.45 L594.6 985.46 L596.6 985.47 L598.6 985.48 L600.6 985.49 L602.6 985.5 L604.6 985.51 L606.6 985.51 L608.6 985.52 L610.6 985.53 L612.6 985.53 L614.6 985.53 L616.6 985.54 L618.6 985.54 L620.6 985.55 L622.6 985.55 L624.6 985.56 L626.6 985.56 L628.6 985.56 L630.6 985.57 L632.6 985.57 L634.6 985.58 L636.6 985.58 L638.6 985.59 L640.6 985.59 L642.6 985.6 L644.6 985.6 L646.6 985.6 L648.6 985.61 L650.6 985.61 L652.6 985.62 L654.6 985.62 L656.6 985.63 L658.6 985.63 L660.6 985.64 L662.6 985.64 L664.6 985.65 L666.6 985.65 L668.6 985.65 L670.6 985.66 L672.6 985.66 L674.6 985.67 L676.6 985.67 L678.6 985.68 L680.6 985.68 L682.6 985.69 L684.6 985.69 L686.6 985.69 L688.6 985.7 L690.6 985.7 L692.6 985.71 L694.6 985.71 L696.6 985.72 L698.6 985.72 L700.6 985.73 L702.6 985.73 L704.6 985.73 L706.6 985.74 L708.6 985.74 L710.6 985.75 L712.6 985.75 L714.6 985.76 L716.6 985.76 L718.6 985.77 L720.6 985.77 L722.6 985.78 L724.6 985.78 L726.6 985.78 L728.6 985.79 L730.6 985.79 L732.6 985.8 L733.6 985.8" stroke="#4472C4" stroke-width="5.6" fill="none" stroke-linecap="round" stroke-linejoin="round"/>
<path d="M134.6 717.41 L136.6 718.27 L138.6 719.15 L140.6 720.07 L142.6 721.06 L144.6 722.12 L146.6 723.28 L148.6 724.56 L150.6 725.95 L152.6 727.44 L154.6 729.03 L156.6 730.72 L158.6 732.5 L160.6 734.37 L162.6 736.31 L164.6 738.31 L166.6 740.34 L168.6 742.38 L170.6 744.42 L172.6 746.42 L174.6 748.38 L176.6 750.26 L178.6 752.06 L180.6 753.75 L182.6 755.31 L184.6 756.74 L186.6 758.01 L188.6 759.11 L190.6 760.03 L192.6 760.76 L194.6 761.3 L196.6 761.63 L198.6 761.76 L200.6 761.67 L202.6 761.37 L204.6 760.86 L206.6 760.15 L208.6 759.23 L210.6 758.12 L212.6 756.81 L214.6 755.32 L216.6 753.68 L218.6 751.9 L220.6 750 L222.6 747.99 L224.6 745.9 L226.6 743.75 L228.6 741.58 L230.6 739.39 L232.6 737.23 L234.6 735.11 L236.6 733.07 L238.6 731.1 L240.6 729.22 L242.6 727.44 L244.6 725.78 L246.6 724.24 L248.6 722.84 L250.6 721.56 L252.6 720.4 L254.6 719.35 L256.6 718.42 L258.6 717.59 L260.6 716.86 L262.6 716.22 L264.6 715.67 L266.6 715.19 L268.6 714.79 L270.6 714.45 L272.6 714.16 L274.6 713.93 L276.6 713.74 L278.6 713.6 L280.6 713.5 L282.6 713.44 L284.6 713.42 L286.6 713.43 L288.6 713.46 L290.6 713.48 L292.6 713.49 L294.6 713.51 L296.6 713.55 L298.6 713.62 L300.6 713.72 L302.6 713.85 L304.6 714 L306.6 714.18 L308.6 714.37 L310.6 714.57 L312.6 714.79 L314.6 715.02 L316.6 715.25 L318.6 715.5 L320.6 715.75 L322.6 716 L324.6 716.26 L326.6 716.52 L328.6 716.79 L330.6 717.05 L332.6 717.33 L334.6 717.61 L336.6 717.91 L338.6 718.22 L340.6 718.55 L342.6 718.9 L344.6 719.28 L346.6 719.67 L348.6 720.1 L350.6 720.55 L352.6 721.03 L354.6 721.56 L356.6 722.13 L358.6 722.77 L360.6 723.49 L362.6 724.29 L364.6 725.18 L366.6 726.15 L368.6 727.21 L370.6 728.37 L372.6 729.63 L374.6 730.98 L376.6 732.44 L378.6 734 L380.6 735.67 L382.6 737.44 L384.6 739.33 L386.6 741.35 L388.6 743.52 L390.6 745.85 L392.6 748.36 L394.6 751.06 L396.6 753.97 L398.6 757.08 L400.6 760.39 L402.6 763.89 L404.6 767.58 L406.6 771.45 L408.6 775.49 L410.6 779.67 L412.6 784 L414.6 788.45 L416.6 793 L418.6 797.64 L420.6 802.37 L422.6 807.19 L424.6 812.1 L426.6 817.11 L428.6 822.24 L430.6 827.49 L432.6 832.87 L434.6 838.37 L436.6 844 L438.6 849.74 L440.6 855.57 L442.6 861.46 L444.6 867.39 L446.6 873.31 L448.6 879.18 L450.6 884.96 L452.6 890.59 L454.6 896.04 L456.6 901.29 L458.6 906.31 L460.6 911.08 L462.6 915.61 L464.6 919.9 L466.6 923.96 L468.6 927.81 L470.6 931.46 L472.6 934.92 L474.6 938.21 L476.6 941.33 L478.6 944.3 L480.6 947.12 L482.6 949.8 L484.6 952.34 L486.6 954.76 L488.6 957.05 L490.6 959.22 L492.6 961.25 L494.6 963.17 L496.6 964.95 L498.6 966.61 L500.6 968.16 L502.6 969.59 L504.6 970.93 L506.6 972.16 L508.6 973.29 L510.6 974.31 L512.6 975.24 L514.6 976.08 L516.6 976.84 L518.6 977.52 L520.6 978.15 L522.6 978.72 L524.6 979.24 L526.6 979.72 L528.6 980.18 L530.6 980.62 L532.6 981.04 L534.6 981.47 L536.6 981.89 L538.6 982.33 L540.6 982.75 L542.6 983.15 L544.6 983.53 L546.6 983.88 L548.6 984.18 L550.6 984.43 L552.6 984.62 L554.6 984.77 L556.6 984.87 L558.6 984.94 L560.6 984.99 L562.6 985.02 L564.6 985.03 L566.6 985.04 L568.6 985.04 L570.6 985.04 L572.6 985.04 L574.6 985.04 L576.6 985.04 L578.6 985.05 L580.6 985.06 L582.6 985.07 L584.6 985.08 L586.6 985.09 L588.6 985.11 L590.6 985.12 L592.6 985.14 L594.6 985.15 L596.6 985.17 L598.6 985.18 L600.6 985.19 L602.6 985.2 L604.6 985.21 L606.6 985.22 L608.6 985.23 L610.6 985.23 L612.6 985.24 L614.6 985.25 L616.6 985.25 L618.6 985.26 L620.6 985.26 L622.6 985.27 L624.6 985.27 L626.6 985.28 L628.6 985.29 L630.6 985.29 L632.6 985.3 L634.6 985.3 L636.6 985.31 L638.6 985.32 L640.6 985.32 L642.6 985.33 L644.6 985.33 L646.6 985.34 L648.6 985.35 L650.6 985.35 L652.6 985.36 L654.6 985.36 L656.6 985.37 L658.6 985.38 L660.6 985.38 L662.6 985.39 L664.6 985.39 L666.6 985.4 L668.6 985.41 L670.6 985.41 L672.6 985.42 L674.6 985.42 L676.6 985.43 L678.6 985.44 L680.6 985.44 L682.6 985.45 L684.6 985.45 L686.6 985.46 L688.6 985.47 L690.6 985.47 L692.6 985.48 L694.6 985.48 L696.6 985.49 L698.6 985.5 L700.6 985.5 L702.6 985.51 L704.6 985.51 L706.6 985.52 L708.6 985.53 L710.6 985.53 L712.6 985.54 L714.6 985.54 L716.6 985.55 L718.6 985.56 L720.6 985.56 L722.6 985.57 L724.6 985.57 L726.6 985.58 L728.6 985.59 L730.6 985.59 L732.6 985.6 L733.6 985.6" stroke="#70AD47" stroke-width="5.6" fill="none" stroke-linecap="round" stroke-linejoin="round"/>
</g>
<text y="614.2" font-size="36.7"><tspan x="-0.31" textLength="22.06" lengthAdjust="spacingAndGlyphs">B</tspan></text>
<text y="677.3" font-size="24.5"><tspan x="254.64" textLength="104.33" lengthAdjust="spacingAndGlyphs">Uv-visible</tspan> <tspan x="365.24" textLength="116.58" lengthAdjust="spacingAndGlyphs">absorption</tspan> <tspan x="487.01" textLength="92.37" lengthAdjust="spacingAndGlyphs">(thymol)</tspan></text>
<text x="114.2" y="712.4" font-size="20" text-anchor="end">3.4</text>
<text x="114.2" y="753.75" font-size="20" text-anchor="end">2.9</text>
<text x="114.2" y="795.1" font-size="20" text-anchor="end">2.4</text>
<text x="114.2" y="836.45" font-size="20" text-anchor="end">1.9</text>
<text x="114.2" y="877.8" font-size="20" text-anchor="end">1.4</text>
<text x="114.2" y="919.15" font-size="20" text-anchor="end">0.9</text>
<text x="114.2" y="960.5" font-size="20" text-anchor="end">0.4</text>
<text x="114.2" y="1001.85" font-size="20" text-anchor="end">-0.1</text>
<text x="134.6" y="1022.7" font-size="20" text-anchor="middle">220</text>
<text x="226.74" y="1022.7" font-size="20" text-anchor="middle">240</text>
<text x="318.88" y="1022.7" font-size="20" text-anchor="middle">260</text>
<text x="411.02" y="1022.7" font-size="20" text-anchor="middle">280</text>
<text x="503.16" y="1022.7" font-size="20" text-anchor="middle">300</text>
<text x="595.3" y="1022.7" font-size="20" text-anchor="middle">320</text>
<text x="687.44" y="1022.7" font-size="20" text-anchor="middle">340</text>
<text x="779.58" y="1022.7" font-size="20" text-anchor="middle">360</text>
<text y="1061.1" font-size="20"><tspan x="384.43" textLength="103.02" lengthAdjust="spacingAndGlyphs">wavelenght</tspan><tspan x="488.72" textLength="42.36" lengthAdjust="spacingAndGlyphs">(nm)</tspan></text>
<text y="0" font-size="20" transform="translate(63.4 903.5) rotate(-90)"><tspan x="-0.04" textLength="105.52" lengthAdjust="spacingAndGlyphs">Absorbance</tspan></text>
<path d="M56.1 1093.1H125.7" stroke="#5B9BD5" stroke-width="5.6" stroke-linecap="round"/>
<text y="1099.2" font-size="20"><tspan x="132.83" textLength="25.96" lengthAdjust="spacingAndGlyphs">D0</tspan></text>
<path d="M171.3 1093.1H240.9" stroke="#ED7D31" stroke-width="5.6" stroke-linecap="round"/>
<text y="1099.2" font-size="20"><tspan x="248.77" textLength="36.4" lengthAdjust="spacingAndGlyphs">D10</tspan></text>
<path d="M298.6 1093.1H368.2" stroke="#A5A5A5" stroke-width="5.6" stroke-linecap="round"/>
<text y="1099.2" font-size="20"><tspan x="375.9" textLength="35.87" lengthAdjust="spacingAndGlyphs">D20</tspan></text>
<path d="M424.8 1093.1H494.4" stroke="#FFC000" stroke-width="5.6" stroke-linecap="round"/>
<text y="1099.2" font-size="20"><tspan x="501.95" textLength="36.83" lengthAdjust="spacingAndGlyphs">D30</tspan></text>
<path d="M552 1093.1H621.6" stroke="#4472C4" stroke-width="5.6" stroke-linecap="round"/>
<text y="1099.2" font-size="20"><tspan x="628.75" textLength="36.83" lengthAdjust="spacingAndGlyphs">D40</tspan></text>
<path d="M679 1093.1H748.6" stroke="#70AD47" stroke-width="5.6" stroke-linecap="round"/>
<text y="1099.2" font-size="20"><tspan x="756.09" textLength="36.08" lengthAdjust="spacingAndGlyphs">D50</tspan></text>
</g>
<g id="chart-thymol">
<path d="M1026.4 736.5H1637.5M1026.4 774.56H1637.5M1026.4 812.62H1637.5M1026.4 850.68H1637.5M1026.4 888.74H1637.5M1026.4 926.8H1637.5M1026.4 964.86H1637.5M1026.4 1002.92H1637.5M1026.4 736.5V1002.92M1128.25 736.5V1002.92M1230.1 736.5V1002.92M1331.95 736.5V1002.92M1433.8 736.5V1002.92M1535.65 736.5V1002.92M1637.5 736.5V1002.92" stroke="#D9D9D9" stroke-width="3" fill="none"/>
<path d="M1026.4 736.5V1002.92M1026.4 1002.92H1637.5" stroke="#BFBFBF" stroke-width="3" fill="none"/>
<clipPath id="clipD"><rect x="1025.4" y="726.5" width="700" height="286.42"/></clipPath>
<path clip-path="url(#clipD)" d="M1026.4 977.34 C1043.38 968.41 1094.3 938.52 1128.25 923.76 C1162.2 908.99 1196.15 904.34 1230.1 888.74 C1264.05 873.14 1298 843.45 1331.95 830.13 C1365.9 816.81 1399.85 816.68 1433.8 808.81 C1467.75 800.95 1518.68 787.25 1535.65 782.93" stroke="#5B9BD5" stroke-width="5.8" fill="none" stroke-linecap="round"/>
<text y="681.5" font-size="28.5"><tspan x="1242.14" textLength="89.6" lengthAdjust="spacingAndGlyphs">thymol</tspan></text>
<text x="1003.2" y="744.5" font-size="23.6" text-anchor="end">3.5</text>
<text x="1003.2" y="782.56" font-size="23.6" text-anchor="end">3</text>
<text x="1003.2" y="820.62" font-size="23.6" text-anchor="end">2.5</text>
<text x="1003.2" y="858.68" font-size="23.6" text-anchor="end">2</text>
<text x="1003.2" y="896.74" font-size="23.6" text-anchor="end">1.5</text>
<text x="1003.2" y="934.8" font-size="23.6" text-anchor="end">1</text>
<text x="1003.2" y="972.86" font-size="23.6" text-anchor="end">0.5</text>
<text x="1003.2" y="1010.92" font-size="23.6" text-anchor="end">0</text>
<text x="1026.4" y="1045" font-size="23.6" text-anchor="middle">0</text>
<text x="1128.25" y="1045" font-size="23.6" text-anchor="middle">10</text>
<text x="1230.1" y="1045" font-size="23.6" text-anchor="middle">20</text>
<text x="1331.95" y="1045" font-size="23.6" text-anchor="middle">30</text>
<text x="1433.8" y="1045" font-size="23.6" text-anchor="middle">40</text>
<text x="1535.65" y="1045" font-size="23.6" text-anchor="middle">50</text>
<text x="1637.5" y="1045" font-size="23.6" text-anchor="middle">60</text>
<text y="1087" font-size="23.6"><tspan x="1190.9" textLength="46.45" lengthAdjust="spacingAndGlyphs">DNA</tspan> <tspan x="1243.47" textLength="145.4" lengthAdjust="spacingAndGlyphs">concentration</tspan> <tspan x="1395.76" textLength="77.57" lengthAdjust="spacingAndGlyphs">(µg/ml)</tspan></text>
<text y="0" font-size="23.6" transform="translate(951.5 978) rotate(-90)"><tspan x="-0.05" textLength="124.38" lengthAdjust="spacingAndGlyphs">Absorbance</tspan> <tspan x="129.43" textLength="88.03" lengthAdjust="spacingAndGlyphs">(276nm)</tspan></text>
</g>
</svg>
</body>
</html>
